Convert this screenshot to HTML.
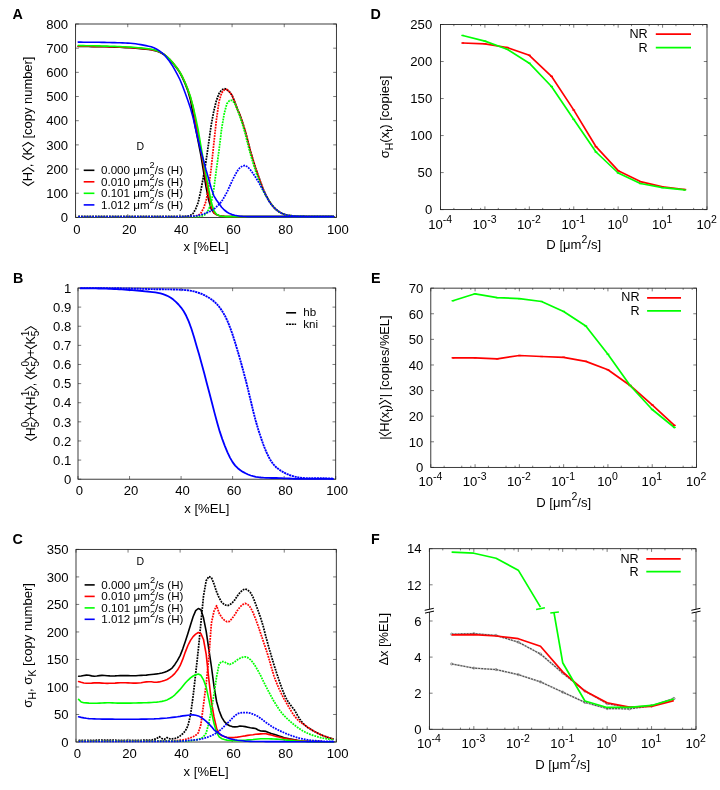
<!DOCTYPE html>
<html><head><meta charset="utf-8"><title>Figure</title>
<style>html,body{margin:0;padding:0;background:#fff;}svg{display:block;will-change:transform;}text{font-family:"Liberation Sans", sans-serif;white-space:pre;}</style>
</head><body>
<svg width="720" height="790" viewBox="0 0 720 790" font-family='"Liberation Sans", sans-serif' fill="#000">
<rect x="0" y="0" width="720" height="790" fill="#fff"/>
<rect x="75.60" y="24.00" width="260.80" height="193.40" fill="none" stroke="#1a1a1a" stroke-width="0.85"/>
<line x1="75.60" y1="217.40" x2="75.60" y2="214.20" stroke="#222" stroke-width="0.6" />
<line x1="75.60" y1="24.00" x2="75.60" y2="27.20" stroke="#222" stroke-width="0.6" />
<text transform="translate(77.00,233.60) scale(1.0,1)" font-size="13.1" text-anchor="middle" font-weight="normal" >0</text>
<line x1="127.76" y1="217.40" x2="127.76" y2="214.20" stroke="#222" stroke-width="0.6" />
<line x1="127.76" y1="24.00" x2="127.76" y2="27.20" stroke="#222" stroke-width="0.6" />
<text transform="translate(129.16,233.60) scale(1.0,1)" font-size="13.1" text-anchor="middle" font-weight="normal" >20</text>
<line x1="179.92" y1="217.40" x2="179.92" y2="214.20" stroke="#222" stroke-width="0.6" />
<line x1="179.92" y1="24.00" x2="179.92" y2="27.20" stroke="#222" stroke-width="0.6" />
<text transform="translate(181.32,233.60) scale(1.0,1)" font-size="13.1" text-anchor="middle" font-weight="normal" >40</text>
<line x1="232.08" y1="217.40" x2="232.08" y2="214.20" stroke="#222" stroke-width="0.6" />
<line x1="232.08" y1="24.00" x2="232.08" y2="27.20" stroke="#222" stroke-width="0.6" />
<text transform="translate(233.48,233.60) scale(1.0,1)" font-size="13.1" text-anchor="middle" font-weight="normal" >60</text>
<line x1="284.24" y1="217.40" x2="284.24" y2="214.20" stroke="#222" stroke-width="0.6" />
<line x1="284.24" y1="24.00" x2="284.24" y2="27.20" stroke="#222" stroke-width="0.6" />
<text transform="translate(285.64,233.60) scale(1.0,1)" font-size="13.1" text-anchor="middle" font-weight="normal" >80</text>
<line x1="336.40" y1="217.40" x2="336.40" y2="214.20" stroke="#222" stroke-width="0.6" />
<line x1="336.40" y1="24.00" x2="336.40" y2="27.20" stroke="#222" stroke-width="0.6" />
<text transform="translate(337.80,233.60) scale(1.0,1)" font-size="13.1" text-anchor="middle" font-weight="normal" >100</text>
<line x1="75.60" y1="217.40" x2="78.80" y2="217.40" stroke="#222" stroke-width="0.6" />
<line x1="336.40" y1="217.40" x2="333.20" y2="217.40" stroke="#222" stroke-width="0.6" />
<text transform="translate(68.10,222.15) scale(1.0,1)" font-size="13.1" text-anchor="end" font-weight="normal" >0</text>
<line x1="75.60" y1="193.22" x2="78.80" y2="193.22" stroke="#222" stroke-width="0.6" />
<line x1="336.40" y1="193.22" x2="333.20" y2="193.22" stroke="#222" stroke-width="0.6" />
<text transform="translate(68.10,197.97) scale(1.0,1)" font-size="13.1" text-anchor="end" font-weight="normal" >100</text>
<line x1="75.60" y1="169.05" x2="78.80" y2="169.05" stroke="#222" stroke-width="0.6" />
<line x1="336.40" y1="169.05" x2="333.20" y2="169.05" stroke="#222" stroke-width="0.6" />
<text transform="translate(68.10,173.80) scale(1.0,1)" font-size="13.1" text-anchor="end" font-weight="normal" >200</text>
<line x1="75.60" y1="144.88" x2="78.80" y2="144.88" stroke="#222" stroke-width="0.6" />
<line x1="336.40" y1="144.88" x2="333.20" y2="144.88" stroke="#222" stroke-width="0.6" />
<text transform="translate(68.10,149.62) scale(1.0,1)" font-size="13.1" text-anchor="end" font-weight="normal" >300</text>
<line x1="75.60" y1="120.70" x2="78.80" y2="120.70" stroke="#222" stroke-width="0.6" />
<line x1="336.40" y1="120.70" x2="333.20" y2="120.70" stroke="#222" stroke-width="0.6" />
<text transform="translate(68.10,125.45) scale(1.0,1)" font-size="13.1" text-anchor="end" font-weight="normal" >400</text>
<line x1="75.60" y1="96.53" x2="78.80" y2="96.53" stroke="#222" stroke-width="0.6" />
<line x1="336.40" y1="96.53" x2="333.20" y2="96.53" stroke="#222" stroke-width="0.6" />
<text transform="translate(68.10,101.28) scale(1.0,1)" font-size="13.1" text-anchor="end" font-weight="normal" >500</text>
<line x1="75.60" y1="72.35" x2="78.80" y2="72.35" stroke="#222" stroke-width="0.6" />
<line x1="336.40" y1="72.35" x2="333.20" y2="72.35" stroke="#222" stroke-width="0.6" />
<text transform="translate(68.10,77.10) scale(1.0,1)" font-size="13.1" text-anchor="end" font-weight="normal" >600</text>
<line x1="75.60" y1="48.18" x2="78.80" y2="48.18" stroke="#222" stroke-width="0.6" />
<line x1="336.40" y1="48.18" x2="333.20" y2="48.18" stroke="#222" stroke-width="0.6" />
<text transform="translate(68.10,52.93) scale(1.0,1)" font-size="13.1" text-anchor="end" font-weight="normal" >700</text>
<line x1="75.60" y1="24.00" x2="78.80" y2="24.00" stroke="#222" stroke-width="0.6" />
<line x1="336.40" y1="24.00" x2="333.20" y2="24.00" stroke="#222" stroke-width="0.6" />
<text transform="translate(68.10,28.75) scale(1.0,1)" font-size="13.1" text-anchor="end" font-weight="normal" >800</text>
<rect x="78.00" y="288.00" width="257.70" height="191.20" fill="none" stroke="#1a1a1a" stroke-width="0.85"/>
<line x1="78.00" y1="479.20" x2="78.00" y2="476.00" stroke="#222" stroke-width="0.6" />
<line x1="78.00" y1="288.00" x2="78.00" y2="291.20" stroke="#222" stroke-width="0.6" />
<text transform="translate(79.40,495.10) scale(1.0,1)" font-size="13.1" text-anchor="middle" font-weight="normal" >0</text>
<line x1="129.54" y1="479.20" x2="129.54" y2="476.00" stroke="#222" stroke-width="0.6" />
<line x1="129.54" y1="288.00" x2="129.54" y2="291.20" stroke="#222" stroke-width="0.6" />
<text transform="translate(130.94,495.10) scale(1.0,1)" font-size="13.1" text-anchor="middle" font-weight="normal" >20</text>
<line x1="181.08" y1="479.20" x2="181.08" y2="476.00" stroke="#222" stroke-width="0.6" />
<line x1="181.08" y1="288.00" x2="181.08" y2="291.20" stroke="#222" stroke-width="0.6" />
<text transform="translate(182.48,495.10) scale(1.0,1)" font-size="13.1" text-anchor="middle" font-weight="normal" >40</text>
<line x1="232.62" y1="479.20" x2="232.62" y2="476.00" stroke="#222" stroke-width="0.6" />
<line x1="232.62" y1="288.00" x2="232.62" y2="291.20" stroke="#222" stroke-width="0.6" />
<text transform="translate(234.02,495.10) scale(1.0,1)" font-size="13.1" text-anchor="middle" font-weight="normal" >60</text>
<line x1="284.16" y1="479.20" x2="284.16" y2="476.00" stroke="#222" stroke-width="0.6" />
<line x1="284.16" y1="288.00" x2="284.16" y2="291.20" stroke="#222" stroke-width="0.6" />
<text transform="translate(285.56,495.10) scale(1.0,1)" font-size="13.1" text-anchor="middle" font-weight="normal" >80</text>
<line x1="335.70" y1="479.20" x2="335.70" y2="476.00" stroke="#222" stroke-width="0.6" />
<line x1="335.70" y1="288.00" x2="335.70" y2="291.20" stroke="#222" stroke-width="0.6" />
<text transform="translate(337.10,495.10) scale(1.0,1)" font-size="13.1" text-anchor="middle" font-weight="normal" >100</text>
<line x1="78.00" y1="479.20" x2="81.20" y2="479.20" stroke="#222" stroke-width="0.6" />
<line x1="335.70" y1="479.20" x2="332.50" y2="479.20" stroke="#222" stroke-width="0.6" />
<text transform="translate(71.30,483.95) scale(1.0,1)" font-size="13.1" text-anchor="end" font-weight="normal" >0</text>
<line x1="78.00" y1="460.08" x2="81.20" y2="460.08" stroke="#222" stroke-width="0.6" />
<line x1="335.70" y1="460.08" x2="332.50" y2="460.08" stroke="#222" stroke-width="0.6" />
<text transform="translate(71.30,464.83) scale(1.0,1)" font-size="13.1" text-anchor="end" font-weight="normal" >0.1</text>
<line x1="78.00" y1="440.96" x2="81.20" y2="440.96" stroke="#222" stroke-width="0.6" />
<line x1="335.70" y1="440.96" x2="332.50" y2="440.96" stroke="#222" stroke-width="0.6" />
<text transform="translate(71.30,445.71) scale(1.0,1)" font-size="13.1" text-anchor="end" font-weight="normal" >0.2</text>
<line x1="78.00" y1="421.84" x2="81.20" y2="421.84" stroke="#222" stroke-width="0.6" />
<line x1="335.70" y1="421.84" x2="332.50" y2="421.84" stroke="#222" stroke-width="0.6" />
<text transform="translate(71.30,426.59) scale(1.0,1)" font-size="13.1" text-anchor="end" font-weight="normal" >0.3</text>
<line x1="78.00" y1="402.72" x2="81.20" y2="402.72" stroke="#222" stroke-width="0.6" />
<line x1="335.70" y1="402.72" x2="332.50" y2="402.72" stroke="#222" stroke-width="0.6" />
<text transform="translate(71.30,407.47) scale(1.0,1)" font-size="13.1" text-anchor="end" font-weight="normal" >0.4</text>
<line x1="78.00" y1="383.60" x2="81.20" y2="383.60" stroke="#222" stroke-width="0.6" />
<line x1="335.70" y1="383.60" x2="332.50" y2="383.60" stroke="#222" stroke-width="0.6" />
<text transform="translate(71.30,388.35) scale(1.0,1)" font-size="13.1" text-anchor="end" font-weight="normal" >0.5</text>
<line x1="78.00" y1="364.48" x2="81.20" y2="364.48" stroke="#222" stroke-width="0.6" />
<line x1="335.70" y1="364.48" x2="332.50" y2="364.48" stroke="#222" stroke-width="0.6" />
<text transform="translate(71.30,369.23) scale(1.0,1)" font-size="13.1" text-anchor="end" font-weight="normal" >0.6</text>
<line x1="78.00" y1="345.36" x2="81.20" y2="345.36" stroke="#222" stroke-width="0.6" />
<line x1="335.70" y1="345.36" x2="332.50" y2="345.36" stroke="#222" stroke-width="0.6" />
<text transform="translate(71.30,350.11) scale(1.0,1)" font-size="13.1" text-anchor="end" font-weight="normal" >0.7</text>
<line x1="78.00" y1="326.24" x2="81.20" y2="326.24" stroke="#222" stroke-width="0.6" />
<line x1="335.70" y1="326.24" x2="332.50" y2="326.24" stroke="#222" stroke-width="0.6" />
<text transform="translate(71.30,330.99) scale(1.0,1)" font-size="13.1" text-anchor="end" font-weight="normal" >0.8</text>
<line x1="78.00" y1="307.12" x2="81.20" y2="307.12" stroke="#222" stroke-width="0.6" />
<line x1="335.70" y1="307.12" x2="332.50" y2="307.12" stroke="#222" stroke-width="0.6" />
<text transform="translate(71.30,311.87) scale(1.0,1)" font-size="13.1" text-anchor="end" font-weight="normal" >0.9</text>
<line x1="78.00" y1="288.00" x2="81.20" y2="288.00" stroke="#222" stroke-width="0.6" />
<line x1="335.70" y1="288.00" x2="332.50" y2="288.00" stroke="#222" stroke-width="0.6" />
<text transform="translate(71.30,292.75) scale(1.0,1)" font-size="13.1" text-anchor="end" font-weight="normal" >1</text>
<rect x="76.00" y="549.40" width="260.30" height="192.60" fill="none" stroke="#1a1a1a" stroke-width="0.85"/>
<line x1="76.00" y1="742.00" x2="76.00" y2="738.80" stroke="#222" stroke-width="0.6" />
<line x1="76.00" y1="549.40" x2="76.00" y2="552.60" stroke="#222" stroke-width="0.6" />
<text transform="translate(77.40,758.00) scale(1.0,1)" font-size="13.1" text-anchor="middle" font-weight="normal" >0</text>
<line x1="128.06" y1="742.00" x2="128.06" y2="738.80" stroke="#222" stroke-width="0.6" />
<line x1="128.06" y1="549.40" x2="128.06" y2="552.60" stroke="#222" stroke-width="0.6" />
<text transform="translate(129.46,758.00) scale(1.0,1)" font-size="13.1" text-anchor="middle" font-weight="normal" >20</text>
<line x1="180.12" y1="742.00" x2="180.12" y2="738.80" stroke="#222" stroke-width="0.6" />
<line x1="180.12" y1="549.40" x2="180.12" y2="552.60" stroke="#222" stroke-width="0.6" />
<text transform="translate(181.52,758.00) scale(1.0,1)" font-size="13.1" text-anchor="middle" font-weight="normal" >40</text>
<line x1="232.18" y1="742.00" x2="232.18" y2="738.80" stroke="#222" stroke-width="0.6" />
<line x1="232.18" y1="549.40" x2="232.18" y2="552.60" stroke="#222" stroke-width="0.6" />
<text transform="translate(233.58,758.00) scale(1.0,1)" font-size="13.1" text-anchor="middle" font-weight="normal" >60</text>
<line x1="284.24" y1="742.00" x2="284.24" y2="738.80" stroke="#222" stroke-width="0.6" />
<line x1="284.24" y1="549.40" x2="284.24" y2="552.60" stroke="#222" stroke-width="0.6" />
<text transform="translate(285.64,758.00) scale(1.0,1)" font-size="13.1" text-anchor="middle" font-weight="normal" >80</text>
<line x1="336.30" y1="742.00" x2="336.30" y2="738.80" stroke="#222" stroke-width="0.6" />
<line x1="336.30" y1="549.40" x2="336.30" y2="552.60" stroke="#222" stroke-width="0.6" />
<text transform="translate(337.70,758.00) scale(1.0,1)" font-size="13.1" text-anchor="middle" font-weight="normal" >100</text>
<line x1="76.00" y1="742.00" x2="79.20" y2="742.00" stroke="#222" stroke-width="0.6" />
<line x1="336.30" y1="742.00" x2="333.10" y2="742.00" stroke="#222" stroke-width="0.6" />
<text transform="translate(68.60,746.75) scale(1.0,1)" font-size="13.1" text-anchor="end" font-weight="normal" >0</text>
<line x1="76.00" y1="714.49" x2="79.20" y2="714.49" stroke="#222" stroke-width="0.6" />
<line x1="336.30" y1="714.49" x2="333.10" y2="714.49" stroke="#222" stroke-width="0.6" />
<text transform="translate(68.60,719.24) scale(1.0,1)" font-size="13.1" text-anchor="end" font-weight="normal" >50</text>
<line x1="76.00" y1="686.97" x2="79.20" y2="686.97" stroke="#222" stroke-width="0.6" />
<line x1="336.30" y1="686.97" x2="333.10" y2="686.97" stroke="#222" stroke-width="0.6" />
<text transform="translate(68.60,691.72) scale(1.0,1)" font-size="13.1" text-anchor="end" font-weight="normal" >100</text>
<line x1="76.00" y1="659.46" x2="79.20" y2="659.46" stroke="#222" stroke-width="0.6" />
<line x1="336.30" y1="659.46" x2="333.10" y2="659.46" stroke="#222" stroke-width="0.6" />
<text transform="translate(68.60,664.21) scale(1.0,1)" font-size="13.1" text-anchor="end" font-weight="normal" >150</text>
<line x1="76.00" y1="631.94" x2="79.20" y2="631.94" stroke="#222" stroke-width="0.6" />
<line x1="336.30" y1="631.94" x2="333.10" y2="631.94" stroke="#222" stroke-width="0.6" />
<text transform="translate(68.60,636.69) scale(1.0,1)" font-size="13.1" text-anchor="end" font-weight="normal" >200</text>
<line x1="76.00" y1="604.43" x2="79.20" y2="604.43" stroke="#222" stroke-width="0.6" />
<line x1="336.30" y1="604.43" x2="333.10" y2="604.43" stroke="#222" stroke-width="0.6" />
<text transform="translate(68.60,609.18) scale(1.0,1)" font-size="13.1" text-anchor="end" font-weight="normal" >250</text>
<line x1="76.00" y1="576.91" x2="79.20" y2="576.91" stroke="#222" stroke-width="0.6" />
<line x1="336.30" y1="576.91" x2="333.10" y2="576.91" stroke="#222" stroke-width="0.6" />
<text transform="translate(68.60,581.66) scale(1.0,1)" font-size="13.1" text-anchor="end" font-weight="normal" >300</text>
<line x1="76.00" y1="549.40" x2="79.20" y2="549.40" stroke="#222" stroke-width="0.6" />
<line x1="336.30" y1="549.40" x2="333.10" y2="549.40" stroke="#222" stroke-width="0.6" />
<text transform="translate(68.60,554.15) scale(1.0,1)" font-size="13.1" text-anchor="end" font-weight="normal" >350</text>
<rect x="440.50" y="24.50" width="266.50" height="185.10" fill="none" stroke="#1a1a1a" stroke-width="0.85"/>
<line x1="440.50" y1="209.60" x2="440.50" y2="206.40" stroke="#222" stroke-width="0.6" />
<line x1="440.50" y1="24.50" x2="440.50" y2="27.70" stroke="#222" stroke-width="0.6" />
<text transform="translate(440.10,228.70) scale(1.0,1)" font-size="13.1" text-anchor="middle">10<tspan font-size="10.5" dy="-6.0">-4</tspan></text>
<line x1="453.87" y1="209.60" x2="453.87" y2="207.90" stroke="#222" stroke-width="0.6" />
<line x1="453.87" y1="24.50" x2="453.87" y2="26.20" stroke="#222" stroke-width="0.6" />
<line x1="471.55" y1="209.60" x2="471.55" y2="207.90" stroke="#222" stroke-width="0.6" />
<line x1="471.55" y1="24.50" x2="471.55" y2="26.20" stroke="#222" stroke-width="0.6" />
<line x1="480.61" y1="209.60" x2="480.61" y2="207.90" stroke="#222" stroke-width="0.6" />
<line x1="480.61" y1="24.50" x2="480.61" y2="26.20" stroke="#222" stroke-width="0.6" />
<line x1="484.92" y1="209.60" x2="484.92" y2="206.40" stroke="#222" stroke-width="0.6" />
<line x1="484.92" y1="24.50" x2="484.92" y2="27.70" stroke="#222" stroke-width="0.6" />
<text transform="translate(484.52,228.70) scale(1.0,1)" font-size="13.1" text-anchor="middle">10<tspan font-size="10.5" dy="-6.0">-3</tspan></text>
<line x1="498.29" y1="209.60" x2="498.29" y2="207.90" stroke="#222" stroke-width="0.6" />
<line x1="498.29" y1="24.50" x2="498.29" y2="26.20" stroke="#222" stroke-width="0.6" />
<line x1="515.96" y1="209.60" x2="515.96" y2="207.90" stroke="#222" stroke-width="0.6" />
<line x1="515.96" y1="24.50" x2="515.96" y2="26.20" stroke="#222" stroke-width="0.6" />
<line x1="525.03" y1="209.60" x2="525.03" y2="207.90" stroke="#222" stroke-width="0.6" />
<line x1="525.03" y1="24.50" x2="525.03" y2="26.20" stroke="#222" stroke-width="0.6" />
<line x1="529.33" y1="209.60" x2="529.33" y2="206.40" stroke="#222" stroke-width="0.6" />
<line x1="529.33" y1="24.50" x2="529.33" y2="27.70" stroke="#222" stroke-width="0.6" />
<text transform="translate(528.93,228.70) scale(1.0,1)" font-size="13.1" text-anchor="middle">10<tspan font-size="10.5" dy="-6.0">-2</tspan></text>
<line x1="542.70" y1="209.60" x2="542.70" y2="207.90" stroke="#222" stroke-width="0.6" />
<line x1="542.70" y1="24.50" x2="542.70" y2="26.20" stroke="#222" stroke-width="0.6" />
<line x1="560.38" y1="209.60" x2="560.38" y2="207.90" stroke="#222" stroke-width="0.6" />
<line x1="560.38" y1="24.50" x2="560.38" y2="26.20" stroke="#222" stroke-width="0.6" />
<line x1="569.45" y1="209.60" x2="569.45" y2="207.90" stroke="#222" stroke-width="0.6" />
<line x1="569.45" y1="24.50" x2="569.45" y2="26.20" stroke="#222" stroke-width="0.6" />
<line x1="573.75" y1="209.60" x2="573.75" y2="206.40" stroke="#222" stroke-width="0.6" />
<line x1="573.75" y1="24.50" x2="573.75" y2="27.70" stroke="#222" stroke-width="0.6" />
<text transform="translate(573.35,228.70) scale(1.0,1)" font-size="13.1" text-anchor="middle">10<tspan font-size="10.5" dy="-6.0">-1</tspan></text>
<line x1="587.12" y1="209.60" x2="587.12" y2="207.90" stroke="#222" stroke-width="0.6" />
<line x1="587.12" y1="24.50" x2="587.12" y2="26.20" stroke="#222" stroke-width="0.6" />
<line x1="604.80" y1="209.60" x2="604.80" y2="207.90" stroke="#222" stroke-width="0.6" />
<line x1="604.80" y1="24.50" x2="604.80" y2="26.20" stroke="#222" stroke-width="0.6" />
<line x1="613.86" y1="209.60" x2="613.86" y2="207.90" stroke="#222" stroke-width="0.6" />
<line x1="613.86" y1="24.50" x2="613.86" y2="26.20" stroke="#222" stroke-width="0.6" />
<line x1="618.17" y1="209.60" x2="618.17" y2="206.40" stroke="#222" stroke-width="0.6" />
<line x1="618.17" y1="24.50" x2="618.17" y2="27.70" stroke="#222" stroke-width="0.6" />
<text transform="translate(617.77,228.70) scale(1.0,1)" font-size="13.1" text-anchor="middle">10<tspan font-size="10.5" dy="-6.0">0</tspan></text>
<line x1="631.54" y1="209.60" x2="631.54" y2="207.90" stroke="#222" stroke-width="0.6" />
<line x1="631.54" y1="24.50" x2="631.54" y2="26.20" stroke="#222" stroke-width="0.6" />
<line x1="649.21" y1="209.60" x2="649.21" y2="207.90" stroke="#222" stroke-width="0.6" />
<line x1="649.21" y1="24.50" x2="649.21" y2="26.20" stroke="#222" stroke-width="0.6" />
<line x1="658.28" y1="209.60" x2="658.28" y2="207.90" stroke="#222" stroke-width="0.6" />
<line x1="658.28" y1="24.50" x2="658.28" y2="26.20" stroke="#222" stroke-width="0.6" />
<line x1="662.58" y1="209.60" x2="662.58" y2="206.40" stroke="#222" stroke-width="0.6" />
<line x1="662.58" y1="24.50" x2="662.58" y2="27.70" stroke="#222" stroke-width="0.6" />
<text transform="translate(662.18,228.70) scale(1.0,1)" font-size="13.1" text-anchor="middle">10<tspan font-size="10.5" dy="-6.0">1</tspan></text>
<line x1="675.95" y1="209.60" x2="675.95" y2="207.90" stroke="#222" stroke-width="0.6" />
<line x1="675.95" y1="24.50" x2="675.95" y2="26.20" stroke="#222" stroke-width="0.6" />
<line x1="693.63" y1="209.60" x2="693.63" y2="207.90" stroke="#222" stroke-width="0.6" />
<line x1="693.63" y1="24.50" x2="693.63" y2="26.20" stroke="#222" stroke-width="0.6" />
<line x1="702.70" y1="209.60" x2="702.70" y2="207.90" stroke="#222" stroke-width="0.6" />
<line x1="702.70" y1="24.50" x2="702.70" y2="26.20" stroke="#222" stroke-width="0.6" />
<line x1="707.00" y1="209.60" x2="707.00" y2="206.40" stroke="#222" stroke-width="0.6" />
<line x1="707.00" y1="24.50" x2="707.00" y2="27.70" stroke="#222" stroke-width="0.6" />
<text transform="translate(706.60,228.70) scale(1.0,1)" font-size="13.1" text-anchor="middle">10<tspan font-size="10.5" dy="-6.0">2</tspan></text>
<line x1="440.50" y1="209.60" x2="443.70" y2="209.60" stroke="#222" stroke-width="0.6" />
<line x1="707.00" y1="209.60" x2="703.80" y2="209.60" stroke="#222" stroke-width="0.6" />
<text transform="translate(432.20,214.35) scale(1.0,1)" font-size="13.1" text-anchor="end" font-weight="normal" >0</text>
<line x1="440.50" y1="172.58" x2="443.70" y2="172.58" stroke="#222" stroke-width="0.6" />
<line x1="707.00" y1="172.58" x2="703.80" y2="172.58" stroke="#222" stroke-width="0.6" />
<text transform="translate(432.20,177.33) scale(1.0,1)" font-size="13.1" text-anchor="end" font-weight="normal" >50</text>
<line x1="440.50" y1="135.56" x2="443.70" y2="135.56" stroke="#222" stroke-width="0.6" />
<line x1="707.00" y1="135.56" x2="703.80" y2="135.56" stroke="#222" stroke-width="0.6" />
<text transform="translate(432.20,140.31) scale(1.0,1)" font-size="13.1" text-anchor="end" font-weight="normal" >100</text>
<line x1="440.50" y1="98.54" x2="443.70" y2="98.54" stroke="#222" stroke-width="0.6" />
<line x1="707.00" y1="98.54" x2="703.80" y2="98.54" stroke="#222" stroke-width="0.6" />
<text transform="translate(432.20,103.29) scale(1.0,1)" font-size="13.1" text-anchor="end" font-weight="normal" >150</text>
<line x1="440.50" y1="61.52" x2="443.70" y2="61.52" stroke="#222" stroke-width="0.6" />
<line x1="707.00" y1="61.52" x2="703.80" y2="61.52" stroke="#222" stroke-width="0.6" />
<text transform="translate(432.20,66.27) scale(1.0,1)" font-size="13.1" text-anchor="end" font-weight="normal" >200</text>
<line x1="440.50" y1="24.50" x2="443.70" y2="24.50" stroke="#222" stroke-width="0.6" />
<line x1="707.00" y1="24.50" x2="703.80" y2="24.50" stroke="#222" stroke-width="0.6" />
<text transform="translate(432.20,29.25) scale(1.0,1)" font-size="13.1" text-anchor="end" font-weight="normal" >250</text>
<rect x="430.80" y="288.15" width="265.70" height="179.25" fill="none" stroke="#1a1a1a" stroke-width="0.85"/>
<line x1="430.80" y1="467.40" x2="430.80" y2="464.20" stroke="#222" stroke-width="0.6" />
<line x1="430.80" y1="288.15" x2="430.80" y2="291.35" stroke="#222" stroke-width="0.6" />
<text transform="translate(430.40,485.80) scale(1.0,1)" font-size="13.1" text-anchor="middle">10<tspan font-size="10.5" dy="-6.0">-4</tspan></text>
<line x1="444.13" y1="467.40" x2="444.13" y2="465.70" stroke="#222" stroke-width="0.6" />
<line x1="444.13" y1="288.15" x2="444.13" y2="289.85" stroke="#222" stroke-width="0.6" />
<line x1="461.75" y1="467.40" x2="461.75" y2="465.70" stroke="#222" stroke-width="0.6" />
<line x1="461.75" y1="288.15" x2="461.75" y2="289.85" stroke="#222" stroke-width="0.6" />
<line x1="470.79" y1="467.40" x2="470.79" y2="465.70" stroke="#222" stroke-width="0.6" />
<line x1="470.79" y1="288.15" x2="470.79" y2="289.85" stroke="#222" stroke-width="0.6" />
<line x1="475.08" y1="467.40" x2="475.08" y2="464.20" stroke="#222" stroke-width="0.6" />
<line x1="475.08" y1="288.15" x2="475.08" y2="291.35" stroke="#222" stroke-width="0.6" />
<text transform="translate(474.68,485.80) scale(1.0,1)" font-size="13.1" text-anchor="middle">10<tspan font-size="10.5" dy="-6.0">-3</tspan></text>
<line x1="488.41" y1="467.40" x2="488.41" y2="465.70" stroke="#222" stroke-width="0.6" />
<line x1="488.41" y1="288.15" x2="488.41" y2="289.85" stroke="#222" stroke-width="0.6" />
<line x1="506.04" y1="467.40" x2="506.04" y2="465.70" stroke="#222" stroke-width="0.6" />
<line x1="506.04" y1="288.15" x2="506.04" y2="289.85" stroke="#222" stroke-width="0.6" />
<line x1="515.08" y1="467.40" x2="515.08" y2="465.70" stroke="#222" stroke-width="0.6" />
<line x1="515.08" y1="288.15" x2="515.08" y2="289.85" stroke="#222" stroke-width="0.6" />
<line x1="519.37" y1="467.40" x2="519.37" y2="464.20" stroke="#222" stroke-width="0.6" />
<line x1="519.37" y1="288.15" x2="519.37" y2="291.35" stroke="#222" stroke-width="0.6" />
<text transform="translate(518.97,485.80) scale(1.0,1)" font-size="13.1" text-anchor="middle">10<tspan font-size="10.5" dy="-6.0">-2</tspan></text>
<line x1="532.70" y1="467.40" x2="532.70" y2="465.70" stroke="#222" stroke-width="0.6" />
<line x1="532.70" y1="288.15" x2="532.70" y2="289.85" stroke="#222" stroke-width="0.6" />
<line x1="550.32" y1="467.40" x2="550.32" y2="465.70" stroke="#222" stroke-width="0.6" />
<line x1="550.32" y1="288.15" x2="550.32" y2="289.85" stroke="#222" stroke-width="0.6" />
<line x1="559.36" y1="467.40" x2="559.36" y2="465.70" stroke="#222" stroke-width="0.6" />
<line x1="559.36" y1="288.15" x2="559.36" y2="289.85" stroke="#222" stroke-width="0.6" />
<line x1="563.65" y1="467.40" x2="563.65" y2="464.20" stroke="#222" stroke-width="0.6" />
<line x1="563.65" y1="288.15" x2="563.65" y2="291.35" stroke="#222" stroke-width="0.6" />
<text transform="translate(563.25,485.80) scale(1.0,1)" font-size="13.1" text-anchor="middle">10<tspan font-size="10.5" dy="-6.0">-1</tspan></text>
<line x1="576.98" y1="467.40" x2="576.98" y2="465.70" stroke="#222" stroke-width="0.6" />
<line x1="576.98" y1="288.15" x2="576.98" y2="289.85" stroke="#222" stroke-width="0.6" />
<line x1="594.60" y1="467.40" x2="594.60" y2="465.70" stroke="#222" stroke-width="0.6" />
<line x1="594.60" y1="288.15" x2="594.60" y2="289.85" stroke="#222" stroke-width="0.6" />
<line x1="603.64" y1="467.40" x2="603.64" y2="465.70" stroke="#222" stroke-width="0.6" />
<line x1="603.64" y1="288.15" x2="603.64" y2="289.85" stroke="#222" stroke-width="0.6" />
<line x1="607.93" y1="467.40" x2="607.93" y2="464.20" stroke="#222" stroke-width="0.6" />
<line x1="607.93" y1="288.15" x2="607.93" y2="291.35" stroke="#222" stroke-width="0.6" />
<text transform="translate(607.53,485.80) scale(1.0,1)" font-size="13.1" text-anchor="middle">10<tspan font-size="10.5" dy="-6.0">0</tspan></text>
<line x1="621.26" y1="467.40" x2="621.26" y2="465.70" stroke="#222" stroke-width="0.6" />
<line x1="621.26" y1="288.15" x2="621.26" y2="289.85" stroke="#222" stroke-width="0.6" />
<line x1="638.89" y1="467.40" x2="638.89" y2="465.70" stroke="#222" stroke-width="0.6" />
<line x1="638.89" y1="288.15" x2="638.89" y2="289.85" stroke="#222" stroke-width="0.6" />
<line x1="647.93" y1="467.40" x2="647.93" y2="465.70" stroke="#222" stroke-width="0.6" />
<line x1="647.93" y1="288.15" x2="647.93" y2="289.85" stroke="#222" stroke-width="0.6" />
<line x1="652.22" y1="467.40" x2="652.22" y2="464.20" stroke="#222" stroke-width="0.6" />
<line x1="652.22" y1="288.15" x2="652.22" y2="291.35" stroke="#222" stroke-width="0.6" />
<text transform="translate(651.82,485.80) scale(1.0,1)" font-size="13.1" text-anchor="middle">10<tspan font-size="10.5" dy="-6.0">1</tspan></text>
<line x1="665.55" y1="467.40" x2="665.55" y2="465.70" stroke="#222" stroke-width="0.6" />
<line x1="665.55" y1="288.15" x2="665.55" y2="289.85" stroke="#222" stroke-width="0.6" />
<line x1="683.17" y1="467.40" x2="683.17" y2="465.70" stroke="#222" stroke-width="0.6" />
<line x1="683.17" y1="288.15" x2="683.17" y2="289.85" stroke="#222" stroke-width="0.6" />
<line x1="692.21" y1="467.40" x2="692.21" y2="465.70" stroke="#222" stroke-width="0.6" />
<line x1="692.21" y1="288.15" x2="692.21" y2="289.85" stroke="#222" stroke-width="0.6" />
<line x1="696.50" y1="467.40" x2="696.50" y2="464.20" stroke="#222" stroke-width="0.6" />
<line x1="696.50" y1="288.15" x2="696.50" y2="291.35" stroke="#222" stroke-width="0.6" />
<text transform="translate(696.10,485.80) scale(1.0,1)" font-size="13.1" text-anchor="middle">10<tspan font-size="10.5" dy="-6.0">2</tspan></text>
<line x1="430.80" y1="467.40" x2="434.00" y2="467.40" stroke="#222" stroke-width="0.6" />
<line x1="696.50" y1="467.40" x2="693.30" y2="467.40" stroke="#222" stroke-width="0.6" />
<text transform="translate(423.30,472.15) scale(1.0,1)" font-size="13.1" text-anchor="end" font-weight="normal" >0</text>
<line x1="430.80" y1="441.79" x2="434.00" y2="441.79" stroke="#222" stroke-width="0.6" />
<line x1="696.50" y1="441.79" x2="693.30" y2="441.79" stroke="#222" stroke-width="0.6" />
<text transform="translate(423.30,446.54) scale(1.0,1)" font-size="13.1" text-anchor="end" font-weight="normal" >10</text>
<line x1="430.80" y1="416.19" x2="434.00" y2="416.19" stroke="#222" stroke-width="0.6" />
<line x1="696.50" y1="416.19" x2="693.30" y2="416.19" stroke="#222" stroke-width="0.6" />
<text transform="translate(423.30,420.94) scale(1.0,1)" font-size="13.1" text-anchor="end" font-weight="normal" >20</text>
<line x1="430.80" y1="390.58" x2="434.00" y2="390.58" stroke="#222" stroke-width="0.6" />
<line x1="696.50" y1="390.58" x2="693.30" y2="390.58" stroke="#222" stroke-width="0.6" />
<text transform="translate(423.30,395.33) scale(1.0,1)" font-size="13.1" text-anchor="end" font-weight="normal" >30</text>
<line x1="430.80" y1="364.97" x2="434.00" y2="364.97" stroke="#222" stroke-width="0.6" />
<line x1="696.50" y1="364.97" x2="693.30" y2="364.97" stroke="#222" stroke-width="0.6" />
<text transform="translate(423.30,369.72) scale(1.0,1)" font-size="13.1" text-anchor="end" font-weight="normal" >40</text>
<line x1="430.80" y1="339.36" x2="434.00" y2="339.36" stroke="#222" stroke-width="0.6" />
<line x1="696.50" y1="339.36" x2="693.30" y2="339.36" stroke="#222" stroke-width="0.6" />
<text transform="translate(423.30,344.11) scale(1.0,1)" font-size="13.1" text-anchor="end" font-weight="normal" >50</text>
<line x1="430.80" y1="313.76" x2="434.00" y2="313.76" stroke="#222" stroke-width="0.6" />
<line x1="696.50" y1="313.76" x2="693.30" y2="313.76" stroke="#222" stroke-width="0.6" />
<text transform="translate(423.30,318.51) scale(1.0,1)" font-size="13.1" text-anchor="end" font-weight="normal" >60</text>
<line x1="430.80" y1="288.15" x2="434.00" y2="288.15" stroke="#222" stroke-width="0.6" />
<line x1="696.50" y1="288.15" x2="693.30" y2="288.15" stroke="#222" stroke-width="0.6" />
<text transform="translate(423.30,292.90) scale(1.0,1)" font-size="13.1" text-anchor="end" font-weight="normal" >70</text>
<rect x="429.40" y="548.70" width="266.60" height="180.60" fill="none" stroke="#1a1a1a" stroke-width="0.85"/>
<line x1="429.40" y1="729.30" x2="429.40" y2="726.10" stroke="#222" stroke-width="0.6" />
<line x1="429.40" y1="548.70" x2="429.40" y2="551.90" stroke="#222" stroke-width="0.6" />
<text transform="translate(429.00,747.70) scale(1.0,1)" font-size="13.1" text-anchor="middle">10<tspan font-size="10.5" dy="-6.0">-4</tspan></text>
<line x1="442.78" y1="729.30" x2="442.78" y2="727.60" stroke="#222" stroke-width="0.6" />
<line x1="442.78" y1="548.70" x2="442.78" y2="550.40" stroke="#222" stroke-width="0.6" />
<line x1="460.46" y1="729.30" x2="460.46" y2="727.60" stroke="#222" stroke-width="0.6" />
<line x1="460.46" y1="548.70" x2="460.46" y2="550.40" stroke="#222" stroke-width="0.6" />
<line x1="469.53" y1="729.30" x2="469.53" y2="727.60" stroke="#222" stroke-width="0.6" />
<line x1="469.53" y1="548.70" x2="469.53" y2="550.40" stroke="#222" stroke-width="0.6" />
<line x1="473.83" y1="729.30" x2="473.83" y2="726.10" stroke="#222" stroke-width="0.6" />
<line x1="473.83" y1="548.70" x2="473.83" y2="551.90" stroke="#222" stroke-width="0.6" />
<text transform="translate(473.43,747.70) scale(1.0,1)" font-size="13.1" text-anchor="middle">10<tspan font-size="10.5" dy="-6.0">-3</tspan></text>
<line x1="487.21" y1="729.30" x2="487.21" y2="727.60" stroke="#222" stroke-width="0.6" />
<line x1="487.21" y1="548.70" x2="487.21" y2="550.40" stroke="#222" stroke-width="0.6" />
<line x1="504.89" y1="729.30" x2="504.89" y2="727.60" stroke="#222" stroke-width="0.6" />
<line x1="504.89" y1="548.70" x2="504.89" y2="550.40" stroke="#222" stroke-width="0.6" />
<line x1="513.96" y1="729.30" x2="513.96" y2="727.60" stroke="#222" stroke-width="0.6" />
<line x1="513.96" y1="548.70" x2="513.96" y2="550.40" stroke="#222" stroke-width="0.6" />
<line x1="518.27" y1="729.30" x2="518.27" y2="726.10" stroke="#222" stroke-width="0.6" />
<line x1="518.27" y1="548.70" x2="518.27" y2="551.90" stroke="#222" stroke-width="0.6" />
<text transform="translate(517.87,747.70) scale(1.0,1)" font-size="13.1" text-anchor="middle">10<tspan font-size="10.5" dy="-6.0">-2</tspan></text>
<line x1="531.64" y1="729.30" x2="531.64" y2="727.60" stroke="#222" stroke-width="0.6" />
<line x1="531.64" y1="548.70" x2="531.64" y2="550.40" stroke="#222" stroke-width="0.6" />
<line x1="549.32" y1="729.30" x2="549.32" y2="727.60" stroke="#222" stroke-width="0.6" />
<line x1="549.32" y1="548.70" x2="549.32" y2="550.40" stroke="#222" stroke-width="0.6" />
<line x1="558.39" y1="729.30" x2="558.39" y2="727.60" stroke="#222" stroke-width="0.6" />
<line x1="558.39" y1="548.70" x2="558.39" y2="550.40" stroke="#222" stroke-width="0.6" />
<line x1="562.70" y1="729.30" x2="562.70" y2="726.10" stroke="#222" stroke-width="0.6" />
<line x1="562.70" y1="548.70" x2="562.70" y2="551.90" stroke="#222" stroke-width="0.6" />
<text transform="translate(562.30,747.70) scale(1.0,1)" font-size="13.1" text-anchor="middle">10<tspan font-size="10.5" dy="-6.0">-1</tspan></text>
<line x1="576.08" y1="729.30" x2="576.08" y2="727.60" stroke="#222" stroke-width="0.6" />
<line x1="576.08" y1="548.70" x2="576.08" y2="550.40" stroke="#222" stroke-width="0.6" />
<line x1="593.76" y1="729.30" x2="593.76" y2="727.60" stroke="#222" stroke-width="0.6" />
<line x1="593.76" y1="548.70" x2="593.76" y2="550.40" stroke="#222" stroke-width="0.6" />
<line x1="602.83" y1="729.30" x2="602.83" y2="727.60" stroke="#222" stroke-width="0.6" />
<line x1="602.83" y1="548.70" x2="602.83" y2="550.40" stroke="#222" stroke-width="0.6" />
<line x1="607.13" y1="729.30" x2="607.13" y2="726.10" stroke="#222" stroke-width="0.6" />
<line x1="607.13" y1="548.70" x2="607.13" y2="551.90" stroke="#222" stroke-width="0.6" />
<text transform="translate(606.73,747.70) scale(1.0,1)" font-size="13.1" text-anchor="middle">10<tspan font-size="10.5" dy="-6.0">0</tspan></text>
<line x1="620.51" y1="729.30" x2="620.51" y2="727.60" stroke="#222" stroke-width="0.6" />
<line x1="620.51" y1="548.70" x2="620.51" y2="550.40" stroke="#222" stroke-width="0.6" />
<line x1="638.19" y1="729.30" x2="638.19" y2="727.60" stroke="#222" stroke-width="0.6" />
<line x1="638.19" y1="548.70" x2="638.19" y2="550.40" stroke="#222" stroke-width="0.6" />
<line x1="647.26" y1="729.30" x2="647.26" y2="727.60" stroke="#222" stroke-width="0.6" />
<line x1="647.26" y1="548.70" x2="647.26" y2="550.40" stroke="#222" stroke-width="0.6" />
<line x1="651.57" y1="729.30" x2="651.57" y2="726.10" stroke="#222" stroke-width="0.6" />
<line x1="651.57" y1="548.70" x2="651.57" y2="551.90" stroke="#222" stroke-width="0.6" />
<text transform="translate(651.17,747.70) scale(1.0,1)" font-size="13.1" text-anchor="middle">10<tspan font-size="10.5" dy="-6.0">1</tspan></text>
<line x1="664.94" y1="729.30" x2="664.94" y2="727.60" stroke="#222" stroke-width="0.6" />
<line x1="664.94" y1="548.70" x2="664.94" y2="550.40" stroke="#222" stroke-width="0.6" />
<line x1="682.62" y1="729.30" x2="682.62" y2="727.60" stroke="#222" stroke-width="0.6" />
<line x1="682.62" y1="548.70" x2="682.62" y2="550.40" stroke="#222" stroke-width="0.6" />
<line x1="691.69" y1="729.30" x2="691.69" y2="727.60" stroke="#222" stroke-width="0.6" />
<line x1="691.69" y1="548.70" x2="691.69" y2="550.40" stroke="#222" stroke-width="0.6" />
<line x1="696.00" y1="729.30" x2="696.00" y2="726.10" stroke="#222" stroke-width="0.6" />
<line x1="696.00" y1="548.70" x2="696.00" y2="551.90" stroke="#222" stroke-width="0.6" />
<text transform="translate(695.60,747.70) scale(1.0,1)" font-size="13.1" text-anchor="middle">10<tspan font-size="10.5" dy="-6.0">2</tspan></text>
<line x1="429.40" y1="729.30" x2="432.60" y2="729.30" stroke="#222" stroke-width="0.6" />
<line x1="696.00" y1="729.30" x2="692.80" y2="729.30" stroke="#222" stroke-width="0.6" />
<text transform="translate(421.60,734.05) scale(1.0,1)" font-size="13.1" text-anchor="end" font-weight="normal" >0</text>
<line x1="429.40" y1="693.20" x2="432.60" y2="693.20" stroke="#222" stroke-width="0.6" />
<line x1="696.00" y1="693.20" x2="692.80" y2="693.20" stroke="#222" stroke-width="0.6" />
<text transform="translate(421.60,697.95) scale(1.0,1)" font-size="13.1" text-anchor="end" font-weight="normal" >2</text>
<line x1="429.40" y1="657.10" x2="432.60" y2="657.10" stroke="#222" stroke-width="0.6" />
<line x1="696.00" y1="657.10" x2="692.80" y2="657.10" stroke="#222" stroke-width="0.6" />
<text transform="translate(421.60,661.85) scale(1.0,1)" font-size="13.1" text-anchor="end" font-weight="normal" >4</text>
<line x1="429.40" y1="621.00" x2="432.60" y2="621.00" stroke="#222" stroke-width="0.6" />
<line x1="696.00" y1="621.00" x2="692.80" y2="621.00" stroke="#222" stroke-width="0.6" />
<text transform="translate(421.60,625.75) scale(1.0,1)" font-size="13.1" text-anchor="end" font-weight="normal" >6</text>
<line x1="429.40" y1="584.80" x2="432.60" y2="584.80" stroke="#222" stroke-width="0.6" />
<line x1="696.00" y1="584.80" x2="692.80" y2="584.80" stroke="#222" stroke-width="0.6" />
<text transform="translate(421.60,589.55) scale(1.0,1)" font-size="13.1" text-anchor="end" font-weight="normal" >12</text>
<line x1="429.40" y1="548.70" x2="432.60" y2="548.70" stroke="#222" stroke-width="0.6" />
<line x1="696.00" y1="548.70" x2="692.80" y2="548.70" stroke="#222" stroke-width="0.6" />
<text transform="translate(421.60,553.45) scale(1.0,1)" font-size="13.1" text-anchor="end" font-weight="normal" >14</text>
<path d="M78.2,46.5 80.8,46.5 83.4,46.5 86.0,46.5 88.6,46.5 91.2,46.6 93.9,46.6 96.5,46.6 99.1,46.7 101.7,46.7 104.3,46.8 106.9,46.8 109.5,46.9 112.1,47.0 114.7,47.1 117.3,47.2 119.9,47.3 122.5,47.4 125.2,47.6 127.8,47.7 130.4,47.8 133.0,48.0 135.6,48.2 138.2,48.4 140.8,48.6 143.4,48.9 146.0,49.1 148.6,49.5 151.2,49.8 153.8,50.4 156.4,51.1 159.1,52.0 161.7,53.2 164.3,54.7 166.9,56.9 169.5,59.3 172.1,62.2 174.7,65.4 177.3,68.9 179.9,72.9 182.5,77.9 185.1,83.8 187.7,90.4 190.4,99.7 193.0,114.1 195.6,128.6 198.2,141.5 200.8,154.9 203.4,170.6 206.0,186.9 208.6,199.8 211.2,209.1 213.8,212.9 216.4,214.5 219.0,215.5 221.6,216.1 224.3,216.4 226.9,216.5 229.5,216.6 232.1,216.6 234.7,216.6 237.3,216.6 239.9,216.6 242.5,216.6 245.1,216.6 247.7,216.6 250.3,216.6 252.9,216.6 255.6,216.6 258.2,216.6 260.8,216.6 263.4,216.6 266.0,216.6 268.6,216.6 271.2,216.6 273.8,216.6 276.4,216.6 279.0,216.6 281.6,216.6 284.2,216.6 286.8,216.6 289.5,216.6 292.1,216.6 294.7,216.6 297.3,216.6 299.9,216.6 302.5,216.6 305.1,216.6 307.7,216.6 310.3,216.6 312.9,216.6 315.5,216.6 318.1,216.6 320.8,216.6 323.4,216.6 326.0,216.6 328.6,216.6 331.2,216.6 333.8,216.6" fill="none" stroke="#000000" stroke-width="1.6" stroke-linejoin="round" stroke-linecap="round" />
<path d="M78.2,216.6 80.8,216.6 83.4,216.6 86.0,216.6 88.6,216.6 91.2,216.6 93.9,216.6 96.5,216.6 99.1,216.6 101.7,216.6 104.3,216.6 106.9,216.6 109.5,216.6 112.1,216.6 114.7,216.6 117.3,216.6 119.9,216.6 122.5,216.6 125.2,216.6 127.8,216.6 130.4,216.6 133.0,216.6 135.6,216.6 138.2,216.6 140.8,216.6 143.4,216.6 146.0,216.6 148.6,216.6 151.2,216.6 153.8,216.6 156.4,216.6 159.1,216.6 161.7,216.6 164.3,216.6 166.9,216.6 169.5,216.6 172.1,216.6 174.7,216.6 177.3,216.6 179.9,216.6 182.5,216.5 185.1,216.4 187.7,216.1 190.4,215.4 193.0,213.6 195.6,209.1 198.2,202.4 200.8,190.9 203.4,176.8 206.0,161.5 208.6,143.3 211.2,125.0 213.8,111.1 216.4,100.5 219.0,93.6 221.6,90.0 224.3,88.6 226.9,89.4 229.5,91.8 232.1,95.4 234.7,101.8 237.3,108.9 239.9,114.8 242.5,122.2 245.1,130.6 247.7,140.3 250.3,150.7 252.9,159.4 255.6,168.0 258.2,175.6 260.8,182.7 263.4,189.7 266.0,195.3 268.6,200.1 271.2,204.1 273.8,207.3 276.4,209.8 279.0,211.7 281.6,213.2 284.2,214.3 286.8,215.0 289.5,215.5 292.1,215.8 294.7,216.1 297.3,216.3 299.9,216.4 302.5,216.4 305.1,216.5 307.7,216.5 310.3,216.5 312.9,216.6 315.5,216.6 318.1,216.6 320.8,216.6 323.4,216.6 326.0,216.6 328.6,216.6 331.2,216.6 333.8,216.6" fill="none" stroke="#000000" stroke-width="1.75" stroke-linejoin="round" stroke-dasharray="1.8 1.0" />
<path d="M78.2,46.2 80.8,46.2 83.4,46.3 86.0,46.3 88.6,46.3 91.2,46.3 93.9,46.4 96.5,46.4 99.1,46.4 101.7,46.5 104.3,46.5 106.9,46.6 109.5,46.7 112.1,46.7 114.7,46.8 117.3,47.0 119.9,47.1 122.5,47.2 125.2,47.3 127.8,47.4 130.4,47.6 133.0,47.8 135.6,47.9 138.2,48.1 140.8,48.4 143.4,48.6 146.0,48.9 148.6,49.2 151.2,49.6 153.8,50.1 156.4,50.8 159.1,51.7 161.7,52.9 164.3,54.5 166.9,56.6 169.5,59.1 172.1,61.8 174.7,64.9 177.3,68.3 179.9,72.2 182.5,77.0 185.1,82.6 187.7,89.1 190.4,96.9 193.0,106.7 195.6,121.7 198.2,135.7 200.8,149.4 203.4,164.1 206.0,180.1 208.6,194.1 211.2,206.5 213.8,212.5 216.4,214.5 219.0,215.5 221.6,216.1 224.3,216.4 226.9,216.5 229.5,216.6 232.1,216.6 234.7,216.6 237.3,216.6 239.9,216.6 242.5,216.6 245.1,216.6 247.7,216.6 250.3,216.6 252.9,216.6 255.6,216.6 258.2,216.6 260.8,216.6 263.4,216.6 266.0,216.6 268.6,216.6 271.2,216.6 273.8,216.6 276.4,216.6 279.0,216.6 281.6,216.6 284.2,216.6 286.8,216.6 289.5,216.6 292.1,216.6 294.7,216.6 297.3,216.6 299.9,216.6 302.5,216.6 305.1,216.6 307.7,216.6 310.3,216.6 312.9,216.6 315.5,216.6 318.1,216.6 320.8,216.6 323.4,216.6 326.0,216.6 328.6,216.6 331.2,216.6 333.8,216.6" fill="none" stroke="#ff0000" stroke-width="1.6" stroke-linejoin="round" stroke-linecap="round" />
<path d="M78.2,216.6 80.8,216.6 83.4,216.6 86.0,216.6 88.6,216.6 91.2,216.6 93.9,216.6 96.5,216.6 99.1,216.6 101.7,216.6 104.3,216.6 106.9,216.6 109.5,216.6 112.1,216.6 114.7,216.6 117.3,216.6 119.9,216.6 122.5,216.6 125.2,216.6 127.8,216.6 130.4,216.6 133.0,216.6 135.6,216.6 138.2,216.6 140.8,216.6 143.4,216.6 146.0,216.6 148.6,216.6 151.2,216.6 153.8,216.6 156.4,216.6 159.1,216.6 161.7,216.6 164.3,216.6 166.9,216.6 169.5,216.6 172.1,216.6 174.7,216.6 177.3,216.6 179.9,216.6 182.5,216.6 185.1,216.6 187.7,216.6 190.4,216.6 193.0,216.4 195.6,216.2 198.2,215.4 200.8,213.3 203.4,208.6 206.0,201.2 208.6,187.6 211.2,168.3 213.8,143.8 216.4,120.0 219.0,101.5 221.6,92.9 224.3,89.9 226.9,89.5 229.5,91.8 232.1,95.4 234.7,101.8 237.3,108.9 239.9,114.8 242.5,122.2 245.1,130.6 247.7,140.3 250.3,150.7 252.9,159.4 255.6,168.0 258.2,175.6 260.8,182.7 263.4,189.7 266.0,195.3 268.6,200.1 271.2,204.1 273.8,207.3 276.4,209.8 279.0,211.7 281.6,213.2 284.2,214.3 286.8,215.0 289.5,215.5 292.1,215.8 294.7,216.1 297.3,216.3 299.9,216.4 302.5,216.4 305.1,216.5 307.7,216.5 310.3,216.5 312.9,216.6 315.5,216.6 318.1,216.6 320.8,216.6 323.4,216.6 326.0,216.6 328.6,216.6 331.2,216.6 333.8,216.6" fill="none" stroke="#ff0000" stroke-width="1.75" stroke-linejoin="round" stroke-dasharray="1.8 1.0" />
<path d="M78.2,45.5 80.8,45.6 83.4,45.6 86.0,45.7 88.6,45.7 91.2,45.8 93.9,45.8 96.5,45.9 99.1,45.9 101.7,46.0 104.3,46.1 106.9,46.1 109.5,46.2 112.1,46.3 114.7,46.4 117.3,46.5 119.9,46.6 122.5,46.7 125.2,46.8 127.8,47.0 130.4,47.1 133.0,47.3 135.6,47.5 138.2,47.7 140.8,47.9 143.4,48.2 146.0,48.5 148.6,48.8 151.2,49.2 153.8,49.8 156.4,50.6 159.1,51.6 161.7,52.9 164.3,54.5 166.9,56.7 169.5,59.1 172.1,61.8 174.7,64.9 177.3,68.3 179.9,72.2 182.5,77.0 185.1,82.6 187.7,89.0 190.4,96.6 193.0,106.0 195.6,117.4 198.2,130.0 200.8,145.4 203.4,160.4 206.0,174.9 208.6,188.6 211.2,201.6 213.8,210.5 216.4,214.1 219.0,215.5 221.6,216.2 224.3,216.5 226.9,216.6 229.5,216.6 232.1,216.6 234.7,216.6 237.3,216.6 239.9,216.6 242.5,216.6 245.1,216.6 247.7,216.6 250.3,216.6 252.9,216.6 255.6,216.6 258.2,216.6 260.8,216.6 263.4,216.6 266.0,216.6 268.6,216.6 271.2,216.6 273.8,216.6 276.4,216.6 279.0,216.6 281.6,216.6 284.2,216.6 286.8,216.6 289.5,216.6 292.1,216.6 294.7,216.6 297.3,216.6 299.9,216.6 302.5,216.6 305.1,216.6 307.7,216.6 310.3,216.6 312.9,216.6 315.5,216.6 318.1,216.6 320.8,216.6 323.4,216.6 326.0,216.6 328.6,216.6 331.2,216.6 333.8,216.6" fill="none" stroke="#00ff00" stroke-width="1.6" stroke-linejoin="round" stroke-linecap="round" />
<path d="M78.2,216.6 80.8,216.6 83.4,216.6 86.0,216.6 88.6,216.6 91.2,216.6 93.9,216.6 96.5,216.6 99.1,216.6 101.7,216.6 104.3,216.6 106.9,216.6 109.5,216.6 112.1,216.6 114.7,216.6 117.3,216.6 119.9,216.6 122.5,216.6 125.2,216.6 127.8,216.6 130.4,216.6 133.0,216.6 135.6,216.6 138.2,216.6 140.8,216.6 143.4,216.6 146.0,216.6 148.6,216.6 151.2,216.6 153.8,216.6 156.4,216.6 159.1,216.6 161.7,216.6 164.3,216.6 166.9,216.6 169.5,216.6 172.1,216.6 174.7,216.6 177.3,216.6 179.9,216.6 182.5,216.6 185.1,216.6 187.7,216.6 190.4,216.6 193.0,216.6 195.6,216.6 198.2,216.5 200.8,216.3 203.4,215.7 206.0,213.9 208.6,209.7 211.2,202.7 213.8,189.2 216.4,169.4 219.0,150.4 221.6,129.0 224.3,113.2 226.9,103.6 229.5,100.5 232.1,100.4 234.7,103.2 237.3,109.4 239.9,116.6 242.5,124.6 245.1,133.3 247.7,143.9 250.3,153.8 252.9,162.5 255.6,171.2 258.2,178.5 260.8,185.4 263.4,191.4 266.0,195.9 268.6,200.3 271.2,204.1 273.8,207.3 276.4,209.8 279.0,211.7 281.6,213.2 284.2,214.3 286.8,215.0 289.5,215.5 292.1,215.8 294.7,216.1 297.3,216.3 299.9,216.4 302.5,216.4 305.1,216.5 307.7,216.5 310.3,216.5 312.9,216.6 315.5,216.6 318.1,216.6 320.8,216.6 323.4,216.6 326.0,216.6 328.6,216.6 331.2,216.6 333.8,216.6" fill="none" stroke="#00ff00" stroke-width="1.75" stroke-linejoin="round" stroke-dasharray="1.8 1.0" />
<path d="M78.2,42.1 80.8,42.1 83.4,42.2 86.0,42.2 88.6,42.2 91.2,42.2 93.9,42.3 96.5,42.3 99.1,42.3 101.7,42.4 104.3,42.4 106.9,42.5 109.5,42.5 112.1,42.6 114.7,42.6 117.3,42.7 119.9,42.8 122.5,42.9 125.2,43.0 127.8,43.1 130.4,43.3 133.0,43.5 135.6,43.8 138.2,44.2 140.8,44.6 143.4,45.1 146.0,45.6 148.6,46.2 151.2,46.8 153.8,47.8 156.4,49.0 159.1,50.6 161.7,52.6 164.3,55.0 166.9,57.9 169.5,61.2 172.1,65.2 174.7,69.6 177.3,74.3 179.9,79.5 182.5,85.7 185.1,92.7 187.7,100.0 190.4,108.1 193.0,117.4 195.6,128.8 198.2,140.0 200.8,150.6 203.4,159.9 206.0,169.7 208.6,178.6 211.2,188.0 213.8,195.6 216.4,200.0 219.0,203.4 221.6,207.2 224.3,210.0 226.9,212.0 229.5,213.6 232.1,214.6 234.7,215.2 237.3,215.7 239.9,216.2 242.5,216.4 245.1,216.5 247.7,216.6 250.3,216.6 252.9,216.6 255.6,216.6 258.2,216.6 260.8,216.6 263.4,216.6 266.0,216.6 268.6,216.6 271.2,216.6 273.8,216.6 276.4,216.6 279.0,216.6 281.6,216.6 284.2,216.6 286.8,216.6 289.5,216.6 292.1,216.6 294.7,216.6 297.3,216.6 299.9,216.6 302.5,216.6 305.1,216.6 307.7,216.6 310.3,216.6 312.9,216.6 315.5,216.6 318.1,216.6 320.8,216.6 323.4,216.6 326.0,216.6 328.6,216.6 331.2,216.6 333.8,216.6" fill="none" stroke="#0000ff" stroke-width="1.6" stroke-linejoin="round" stroke-linecap="round" />
<path d="M78.2,216.6 80.8,216.6 83.4,216.6 86.0,216.6 88.6,216.6 91.2,216.6 93.9,216.6 96.5,216.6 99.1,216.6 101.7,216.6 104.3,216.6 106.9,216.6 109.5,216.6 112.1,216.6 114.7,216.6 117.3,216.6 119.9,216.6 122.5,216.6 125.2,216.6 127.8,216.6 130.4,216.6 133.0,216.6 135.6,216.6 138.2,216.6 140.8,216.6 143.4,216.6 146.0,216.6 148.6,216.6 151.2,216.6 153.8,216.6 156.4,216.6 159.1,216.6 161.7,216.6 164.3,216.6 166.9,216.6 169.5,216.6 172.1,216.6 174.7,216.6 177.3,216.6 179.9,216.6 182.5,216.5 185.1,216.5 187.7,216.4 190.4,216.3 193.0,216.2 195.6,215.9 198.2,215.5 200.8,214.9 203.4,214.1 206.0,213.1 208.6,212.0 211.2,210.9 213.8,209.4 216.4,206.9 219.0,204.5 221.6,201.5 224.3,197.0 226.9,192.4 229.5,186.6 232.1,181.0 234.7,175.7 237.3,171.1 239.9,167.7 242.5,166.0 245.1,165.4 247.7,167.0 250.3,169.7 252.9,173.2 255.6,177.4 258.2,181.5 260.8,186.0 263.4,190.8 266.0,195.6 268.6,200.6 271.2,204.4 273.8,207.3 276.4,209.8 279.0,211.7 281.6,213.2 284.2,214.3 286.8,215.0 289.5,215.5 292.1,215.8 294.7,216.1 297.3,216.3 299.9,216.4 302.5,216.4 305.1,216.5 307.7,216.5 310.3,216.5 312.9,216.6 315.5,216.6 318.1,216.6 320.8,216.6 323.4,216.6 326.0,216.6 328.6,216.6 331.2,216.6 333.8,216.6" fill="none" stroke="#0000ff" stroke-width="1.75" stroke-linejoin="round" stroke-dasharray="1.8 1.0" />
<path d="M80.6,288.4 83.2,288.4 85.7,288.4 88.3,288.4 90.9,288.4 93.5,288.4 96.0,288.4 98.6,288.5 101.2,288.5 103.8,288.6 106.3,288.7 108.9,288.8 111.5,288.9 114.1,289.0 116.7,289.1 119.2,289.3 121.8,289.4 124.4,289.6 127.0,289.8 129.5,290.0 132.1,290.2 134.7,290.4 137.3,290.6 139.8,290.8 142.4,291.0 145.0,291.3 147.6,291.5 150.2,291.8 152.7,292.1 155.3,292.4 157.9,292.9 160.5,293.4 163.0,294.2 165.6,295.1 168.2,296.3 170.8,297.8 173.3,299.6 175.9,301.9 178.5,304.5 181.1,307.6 183.7,311.3 186.2,315.8 188.8,321.6 191.4,328.7 194.0,337.0 196.5,345.7 199.1,354.6 201.7,363.9 204.3,373.5 206.8,383.2 209.4,393.0 212.0,403.0 214.6,413.1 217.2,422.7 219.7,431.4 222.3,439.1 224.9,446.1 227.5,452.3 230.0,457.6 232.6,462.1 235.2,465.6 237.8,468.2 240.4,470.3 242.9,471.9 245.5,473.3 248.1,474.5 250.7,475.5 253.2,476.2 255.8,476.8 258.4,477.2 261.0,477.5 263.5,477.7 266.1,477.8 268.7,477.9 271.3,478.0 273.9,478.0 276.4,478.0 279.0,478.1 281.6,478.2 284.2,478.3 286.7,478.4 289.3,478.5 291.9,478.6 294.5,478.8 297.0,478.9 299.6,478.9 302.2,478.9 304.8,478.9 307.4,478.9 309.9,478.9 312.5,478.9 315.1,478.9 317.7,478.9 320.2,478.9 322.8,478.9 325.4,478.9 328.0,478.9 330.5,478.9 333.1,478.9" fill="none" stroke="#0000ff" stroke-width="1.8" stroke-linejoin="round" stroke-linecap="round" />
<path d="M80.6,288.1 83.2,288.1 85.7,288.1 88.3,288.1 90.9,288.1 93.5,288.1 96.0,288.1 98.6,288.1 101.2,288.1 103.8,288.1 106.3,288.1 108.9,288.1 111.5,288.2 114.1,288.2 116.7,288.2 119.2,288.3 121.8,288.4 124.4,288.4 127.0,288.5 129.5,288.5 132.1,288.6 134.7,288.7 137.3,288.7 139.8,288.8 142.4,288.9 145.0,288.9 147.6,289.0 150.2,289.1 152.7,289.1 155.3,289.2 157.9,289.2 160.5,289.3 163.0,289.3 165.6,289.4 168.2,289.4 170.8,289.4 173.3,289.5 175.9,289.5 178.5,289.6 181.1,289.7 183.7,289.9 186.2,290.1 188.8,290.4 191.4,290.9 194.0,291.4 196.5,292.1 199.1,293.0 201.7,293.9 204.3,295.1 206.8,296.5 209.4,298.0 212.0,299.8 214.6,301.9 217.2,304.5 219.7,307.5 222.3,311.2 224.9,315.7 227.5,321.0 230.0,327.3 232.6,334.6 235.2,342.8 237.8,351.5 240.4,360.4 242.9,369.6 245.5,379.2 248.1,389.7 250.7,400.5 253.2,411.2 255.8,421.1 258.4,430.0 261.0,437.9 263.5,445.0 266.1,451.5 268.7,457.0 271.3,461.5 273.9,464.9 276.4,467.5 279.0,469.5 281.6,471.2 284.2,472.7 286.7,473.9 289.3,475.0 291.9,475.9 294.5,476.6 297.0,477.2 299.6,477.6 302.2,477.9 304.8,478.1 307.4,478.2 309.9,478.3 312.5,478.3 315.1,478.3 317.7,478.3 320.2,478.3 322.8,478.3 325.4,478.3 328.0,478.4 330.5,478.5 333.1,478.8" fill="none" stroke="#0000ff" stroke-width="1.9" stroke-linejoin="round" stroke-dasharray="2.15 0.65" />
<path d="M78.6,676.2 81.2,676.0 83.8,675.5 86.4,675.1 89.0,675.3 91.6,675.9 94.2,676.2 96.8,676.0 99.4,675.6 102.0,675.4 104.6,675.5 107.2,675.7 109.8,675.9 112.4,676.0 115.0,675.9 117.6,675.7 120.3,675.6 122.9,675.5 125.5,675.6 128.1,675.6 130.7,675.7 133.3,675.7 135.9,675.7 138.5,675.5 141.1,675.4 143.7,675.3 146.3,675.1 148.9,674.8 151.5,674.5 154.1,674.2 156.7,673.9 159.3,673.5 161.9,673.0 164.5,672.3 167.1,671.2 169.7,669.8 172.3,667.8 174.9,664.4 177.5,660.4 180.1,655.6 182.7,649.1 185.3,641.5 187.9,633.4 190.5,624.9 193.1,616.7 195.7,610.6 198.3,608.5 200.9,609.7 203.5,617.8 206.2,631.4 208.8,649.2 211.4,666.5 214.0,686.2 216.6,701.5 219.2,710.8 221.8,717.4 224.4,721.7 227.0,724.2 229.6,725.7 232.2,726.6 234.8,726.9 237.4,726.7 240.0,726.0 242.6,726.2 245.2,726.6 247.8,727.2 250.4,727.8 253.0,728.1 255.6,728.5 258.2,730.0 260.8,731.0 263.4,731.1 266.0,731.4 268.6,732.5 271.2,733.5 273.8,734.2 276.4,735.0 279.0,735.9 281.6,736.8 284.2,737.7 286.8,738.3 289.4,738.9 292.0,739.4 294.7,739.9 297.3,740.4 299.9,740.8 302.5,741.1 305.1,741.3 307.7,741.4 310.3,741.5 312.9,741.5 315.5,741.6 318.1,741.6 320.7,741.6 323.3,741.7 325.9,741.7 328.5,741.7 331.1,741.7 333.7,741.7" fill="none" stroke="#000000" stroke-width="1.6" stroke-linejoin="round" stroke-linecap="round" />
<path d="M78.6,740.3 81.2,740.3 83.8,740.3 86.4,740.3 89.0,740.3 91.6,740.3 94.2,740.3 96.8,740.2 99.4,740.1 102.0,740.1 104.6,740.1 107.2,740.1 109.8,740.1 112.4,740.2 115.0,740.2 117.6,740.3 120.3,740.3 122.9,740.3 125.5,740.3 128.1,740.3 130.7,740.3 133.3,740.3 135.9,740.3 138.5,740.3 141.1,740.3 143.7,740.2 146.3,740.2 148.9,740.2 151.5,740.0 154.1,739.4 156.7,738.5 159.3,736.7 161.9,738.5 164.5,739.2 167.1,737.6 169.7,738.8 172.3,738.8 174.9,738.5 177.5,737.6 180.1,735.9 182.7,733.8 185.3,730.9 187.9,725.9 190.5,715.0 193.1,696.3 195.7,673.3 198.3,649.9 200.9,622.8 203.5,596.2 206.2,580.7 208.8,576.5 211.4,577.5 214.0,584.0 216.6,591.9 219.2,598.0 221.8,602.4 224.4,604.6 227.0,605.8 229.6,605.1 232.2,602.8 234.8,599.9 237.4,595.9 240.0,592.5 242.6,590.0 245.2,588.9 247.8,590.0 250.4,592.5 253.0,597.2 255.6,603.8 258.2,611.0 260.8,618.4 263.4,627.0 266.0,637.1 268.6,646.7 271.2,655.6 273.8,664.2 276.4,672.4 279.0,680.2 281.6,687.5 284.2,694.3 286.8,699.6 289.4,703.6 292.0,706.9 294.7,710.4 297.3,715.0 299.9,719.3 302.5,722.9 305.1,725.4 307.7,727.4 310.3,729.1 312.9,730.6 315.5,732.1 318.1,733.4 320.7,734.6 323.3,735.7 325.9,736.7 328.5,737.6 331.1,738.4 333.7,739.1" fill="none" stroke="#000000" stroke-width="1.75" stroke-linejoin="round" stroke-dasharray="1.8 1.0" />
<path d="M78.6,681.5 81.2,682.3 83.8,683.0 86.4,683.3 89.0,683.2 91.6,683.1 94.2,682.9 96.8,682.8 99.4,682.9 102.0,683.1 104.6,683.3 107.2,683.4 109.8,683.3 112.4,683.2 115.0,683.1 117.6,682.9 120.3,682.8 122.9,682.8 125.5,682.8 128.1,682.9 130.7,683.0 133.3,683.1 135.9,683.1 138.5,683.0 141.1,682.7 143.7,682.3 146.3,681.9 148.9,681.7 151.5,681.8 154.1,682.2 156.7,682.2 159.3,681.9 161.9,681.2 164.5,680.4 167.1,679.5 169.7,677.9 172.3,675.8 174.9,673.3 177.5,670.1 180.1,665.7 182.7,659.4 185.3,652.1 187.9,645.5 190.5,640.4 193.1,636.6 195.7,634.1 198.3,632.5 200.9,633.6 203.5,639.5 206.2,654.3 208.8,678.9 211.4,701.6 214.0,717.0 216.6,728.3 219.2,733.6 221.8,735.7 224.4,736.6 227.0,737.2 229.6,737.5 232.2,737.6 234.8,737.4 237.4,737.1 240.0,736.7 242.6,736.3 245.2,735.9 247.8,735.4 250.4,735.0 253.0,734.7 255.6,734.3 258.2,734.1 260.8,733.9 263.4,733.8 266.0,733.8 268.6,734.4 271.2,735.0 273.8,735.7 276.4,736.4 279.0,737.1 281.6,737.8 284.2,738.4 286.8,738.9 289.4,739.3 292.0,739.8 294.7,740.1 297.3,740.5 299.9,740.9 302.5,741.1 305.1,741.3 307.7,741.4 310.3,741.5 312.9,741.5 315.5,741.6 318.1,741.6 320.7,741.6 323.3,741.7 325.9,741.7 328.5,741.7 331.1,741.7 333.7,741.7" fill="none" stroke="#ff0000" stroke-width="1.6" stroke-linejoin="round" stroke-linecap="round" />
<path d="M78.6,740.9 81.2,740.9 83.8,740.9 86.4,740.9 89.0,740.9 91.6,740.9 94.2,740.9 96.8,740.9 99.4,740.9 102.0,740.9 104.6,740.9 107.2,740.9 109.8,740.9 112.4,740.9 115.0,740.9 117.6,740.9 120.3,740.9 122.9,740.9 125.5,740.9 128.1,740.9 130.7,740.9 133.3,740.9 135.9,740.9 138.5,740.9 141.1,740.9 143.7,740.9 146.3,740.9 148.9,740.9 151.5,740.9 154.1,740.9 156.7,740.9 159.3,740.9 161.9,740.9 164.5,740.9 167.1,740.9 169.7,740.9 172.3,740.9 174.9,740.7 177.5,740.5 180.1,740.3 182.7,740.0 185.3,739.4 187.9,738.6 190.5,737.8 193.1,736.7 195.7,735.3 198.3,732.8 200.9,724.5 203.5,704.7 206.2,683.6 208.8,657.9 211.4,623.1 214.0,611.2 216.6,605.7 219.2,613.4 221.8,617.5 224.4,620.2 227.0,621.8 229.6,621.3 232.2,618.3 234.8,614.7 237.4,610.5 240.0,607.0 242.6,604.6 245.2,603.4 247.8,604.5 250.4,607.3 253.0,612.5 255.6,619.0 258.2,626.2 260.8,633.8 263.4,641.6 266.0,649.4 268.6,657.5 271.2,666.6 273.8,675.5 276.4,682.6 279.0,688.6 281.6,694.1 284.2,699.1 286.8,703.6 289.4,708.0 292.0,712.4 294.7,716.2 297.3,719.3 299.9,721.8 302.5,723.6 305.1,725.3 307.7,727.2 310.3,729.0 312.9,730.6 315.5,732.0 318.1,733.4 320.7,734.6 323.3,735.7 325.9,736.7 328.5,737.6 331.1,738.4 333.7,739.1" fill="none" stroke="#ff0000" stroke-width="1.75" stroke-linejoin="round" stroke-dasharray="1.8 1.0" />
<path d="M78.6,699.4 81.2,702.0 83.8,702.7 86.4,702.9 89.0,703.1 91.6,703.2 94.2,703.2 96.8,703.2 99.4,703.1 102.0,703.0 104.6,702.9 107.2,702.8 109.8,702.8 112.4,702.9 115.0,703.0 117.6,703.1 120.3,703.1 122.9,703.1 125.5,703.1 128.1,703.1 130.7,703.1 133.3,703.0 135.9,703.0 138.5,702.9 141.1,702.9 143.7,702.8 146.3,702.7 148.9,702.6 151.5,702.5 154.1,702.3 156.7,702.1 159.3,701.8 161.9,701.4 164.5,700.8 167.1,699.9 169.7,698.5 172.3,697.0 174.9,694.8 177.5,692.1 180.1,689.4 182.7,686.2 185.3,683.0 187.9,680.3 190.5,677.8 193.1,676.0 195.7,674.8 198.3,674.1 200.9,675.3 203.5,679.8 206.2,687.2 208.8,699.4 211.4,711.9 214.0,723.6 216.6,732.3 219.2,736.8 221.8,738.7 224.4,739.5 227.0,740.1 229.6,740.4 232.2,740.5 234.8,740.6 237.4,740.6 240.0,740.6 242.6,740.4 245.2,740.2 247.8,739.9 250.4,739.7 253.0,739.5 255.6,739.2 258.2,739.0 260.8,738.8 263.4,738.7 266.0,738.7 268.6,738.8 271.2,738.9 273.8,739.0 276.4,739.1 279.0,739.2 281.6,739.5 284.2,739.8 286.8,740.1 289.4,740.4 292.0,740.6 294.7,740.9 297.3,741.1 299.9,741.3 302.5,741.4 305.1,741.5 307.7,741.5 310.3,741.6 312.9,741.6 315.5,741.6 318.1,741.6 320.7,741.7 323.3,741.7 325.9,741.7 328.5,741.7 331.1,741.7 333.7,741.7" fill="none" stroke="#00ff00" stroke-width="1.6" stroke-linejoin="round" stroke-linecap="round" />
<path d="M78.6,741.2 81.2,741.2 83.8,741.2 86.4,741.2 89.0,741.2 91.6,741.2 94.2,741.2 96.8,741.2 99.4,741.2 102.0,741.2 104.6,741.2 107.2,741.2 109.8,741.2 112.4,741.2 115.0,741.2 117.6,741.2 120.3,741.2 122.9,741.2 125.5,741.2 128.1,741.2 130.7,741.2 133.3,741.2 135.9,741.2 138.5,741.2 141.1,741.2 143.7,741.2 146.3,741.2 148.9,741.2 151.5,741.2 154.1,741.2 156.7,741.2 159.3,741.2 161.9,741.2 164.5,741.2 167.1,741.2 169.7,741.2 172.3,741.2 174.9,741.2 177.5,741.2 180.1,741.2 182.7,741.2 185.3,741.2 187.9,741.0 190.5,740.7 193.1,740.3 195.7,739.9 198.3,739.3 200.9,738.5 203.5,736.9 206.2,732.9 208.8,723.3 211.4,710.1 214.0,694.3 216.6,676.7 219.2,663.7 221.8,661.5 224.4,661.8 227.0,663.4 229.6,664.5 232.2,663.4 234.8,661.8 237.4,659.8 240.0,658.2 242.6,657.2 245.2,656.8 247.8,657.7 250.4,659.6 253.0,662.6 255.6,666.6 258.2,671.0 260.8,675.9 263.4,681.3 266.0,686.5 268.6,691.5 271.2,696.4 273.8,701.0 276.4,705.2 279.0,709.3 281.6,712.8 284.2,715.8 286.8,718.3 289.4,720.7 292.0,723.0 294.7,725.3 297.3,727.3 299.9,729.0 302.5,730.7 305.1,732.1 307.7,733.3 310.3,734.4 312.9,735.3 315.5,736.1 318.1,736.9 320.7,737.6 323.3,738.2 325.9,738.7 328.5,739.1 331.1,739.5 333.7,739.7" fill="none" stroke="#00ff00" stroke-width="1.75" stroke-linejoin="round" stroke-dasharray="1.8 1.0" />
<path d="M78.6,716.8 81.2,717.4 83.8,717.9 86.4,718.3 89.0,718.6 91.6,718.8 94.2,718.9 96.8,719.0 99.4,719.0 102.0,719.1 104.6,719.1 107.2,719.1 109.8,719.1 112.4,719.1 115.0,719.2 117.6,719.2 120.3,719.2 122.9,719.2 125.5,719.2 128.1,719.2 130.7,719.2 133.3,719.2 135.9,719.2 138.5,719.2 141.1,719.1 143.7,719.1 146.3,719.1 148.9,719.0 151.5,719.0 154.1,718.9 156.7,718.7 159.3,718.6 161.9,718.4 164.5,718.2 167.1,718.0 169.7,717.7 172.3,717.4 174.9,717.1 177.5,716.8 180.1,716.4 182.7,715.9 185.3,715.6 187.9,715.3 190.5,715.0 193.1,714.9 195.7,715.2 198.3,715.9 200.9,717.3 203.5,719.2 206.2,721.4 208.8,723.8 211.4,726.6 214.0,729.8 216.6,731.9 219.2,733.7 221.8,735.2 224.4,736.6 227.0,737.7 229.6,738.6 232.2,739.2 234.8,739.8 237.4,740.2 240.0,740.5 242.6,740.8 245.2,741.1 247.8,741.3 250.4,741.4 253.0,741.5 255.6,741.5 258.2,741.5 260.8,741.5 263.4,741.5 266.0,741.6 268.6,741.6 271.2,741.6 273.8,741.6 276.4,741.6 279.0,741.6 281.6,741.6 284.2,741.6 286.8,741.7 289.4,741.7 292.0,741.7 294.7,741.7 297.3,741.7 299.9,741.7 302.5,741.7 305.1,741.7 307.7,741.7 310.3,741.7 312.9,741.7 315.5,741.7 318.1,741.7 320.7,741.7 323.3,741.7 325.9,741.7 328.5,741.7 331.1,741.7 333.7,741.7" fill="none" stroke="#0000ff" stroke-width="1.6" stroke-linejoin="round" stroke-linecap="round" />
<path d="M78.6,741.4 81.2,741.4 83.8,741.4 86.4,741.4 89.0,741.4 91.6,741.4 94.2,741.4 96.8,741.4 99.4,741.4 102.0,741.4 104.6,741.4 107.2,741.4 109.8,741.4 112.4,741.4 115.0,741.4 117.6,741.4 120.3,741.4 122.9,741.4 125.5,741.4 128.1,741.4 130.7,741.4 133.3,741.4 135.9,741.4 138.5,741.4 141.1,741.4 143.7,741.4 146.3,741.4 148.9,741.4 151.5,741.4 154.1,741.4 156.7,741.4 159.3,741.4 161.9,741.4 164.5,741.4 167.1,741.4 169.7,741.4 172.3,741.4 174.9,741.4 177.5,741.4 180.1,741.2 182.7,741.0 185.3,740.8 187.9,740.5 190.5,740.3 193.1,740.1 195.7,739.9 198.3,739.6 200.9,739.2 203.5,738.5 206.2,737.6 208.8,736.7 211.4,735.7 214.0,734.5 216.6,732.9 219.2,731.0 221.8,728.7 224.4,726.2 227.0,723.7 229.6,721.1 232.2,718.3 234.8,715.9 237.4,713.8 240.0,713.0 242.6,712.6 245.2,712.5 247.8,712.7 250.4,713.2 253.0,714.1 255.6,715.3 258.2,716.6 260.8,718.4 263.4,720.5 266.0,722.5 268.6,724.3 271.2,726.1 273.8,727.7 276.4,729.1 279.0,730.4 281.6,731.6 284.2,732.8 286.8,733.9 289.4,734.9 292.0,735.8 294.7,736.8 297.3,737.6 299.9,738.3 302.5,738.9 305.1,739.4 307.7,739.8 310.3,740.2 312.9,740.5 315.5,740.7 318.1,740.9 320.7,741.0 323.3,741.2 325.9,741.3 328.5,741.4 331.1,741.4 333.7,741.4" fill="none" stroke="#0000ff" stroke-width="1.75" stroke-linejoin="round" stroke-dasharray="1.8 1.0" />
<path d="M462.7,43.0 484.9,43.8 507.1,47.5 529.3,55.3 551.5,76.3 573.8,110.1 596.0,146.7 618.2,170.7 640.4,181.6 662.6,186.9 684.8,189.5" fill="none" stroke="#ff0000" stroke-width="1.7" stroke-linejoin="round" stroke-linecap="round" />
<path d="M462.7,35.5 484.9,41.1 507.1,49.3 529.3,63.2 551.5,86.5 573.8,119.4 596.0,152.0 618.2,173.0 640.4,183.5 662.6,187.6 684.8,189.9" fill="none" stroke="#00ff00" stroke-width="1.7" stroke-linejoin="round" stroke-linecap="round" />
<path d="M452.9,357.8 475.1,357.8 497.2,358.8 519.4,355.5 541.5,356.5 563.6,357.3 585.8,361.4 607.9,369.8 630.1,385.5 652.2,404.9 674.4,425.4" fill="none" stroke="#ff0000" stroke-width="1.7" stroke-linejoin="round" stroke-linecap="round" />
<path d="M452.9,300.7 475.1,293.8 497.2,297.6 519.4,298.6 541.5,301.5 563.6,311.5 585.8,326.0 607.9,354.2 630.1,385.5 652.2,409.5 674.4,427.5" fill="none" stroke="#00ff00" stroke-width="1.7" stroke-linejoin="round" stroke-linecap="round" />
<line x1="461.31" y1="43.01" x2="464.11" y2="43.01" stroke="#ff0000" stroke-width="1.3" />
<line x1="483.52" y1="43.75" x2="486.32" y2="43.75" stroke="#ff0000" stroke-width="1.3" />
<line x1="505.73" y1="47.45" x2="508.52" y2="47.45" stroke="#ff0000" stroke-width="1.3" />
<line x1="527.93" y1="55.30" x2="530.73" y2="55.30" stroke="#ff0000" stroke-width="1.3" />
<line x1="550.14" y1="76.33" x2="552.94" y2="76.33" stroke="#ff0000" stroke-width="1.3" />
<line x1="572.35" y1="110.09" x2="575.15" y2="110.09" stroke="#ff0000" stroke-width="1.3" />
<line x1="594.56" y1="146.74" x2="597.36" y2="146.74" stroke="#ff0000" stroke-width="1.3" />
<line x1="616.77" y1="170.73" x2="619.57" y2="170.73" stroke="#ff0000" stroke-width="1.3" />
<line x1="638.98" y1="181.61" x2="641.77" y2="181.61" stroke="#ff0000" stroke-width="1.3" />
<line x1="661.18" y1="186.87" x2="663.98" y2="186.87" stroke="#ff0000" stroke-width="1.3" />
<line x1="683.39" y1="189.46" x2="686.19" y2="189.46" stroke="#ff0000" stroke-width="1.3" />
<line x1="461.31" y1="35.46" x2="464.11" y2="35.46" stroke="#00ff00" stroke-width="1.3" />
<line x1="483.52" y1="41.08" x2="486.32" y2="41.08" stroke="#00ff00" stroke-width="1.3" />
<line x1="505.73" y1="49.30" x2="508.52" y2="49.30" stroke="#00ff00" stroke-width="1.3" />
<line x1="527.93" y1="63.22" x2="530.73" y2="63.22" stroke="#00ff00" stroke-width="1.3" />
<line x1="550.14" y1="86.47" x2="552.94" y2="86.47" stroke="#00ff00" stroke-width="1.3" />
<line x1="572.35" y1="119.42" x2="575.15" y2="119.42" stroke="#00ff00" stroke-width="1.3" />
<line x1="594.56" y1="152.00" x2="597.36" y2="152.00" stroke="#00ff00" stroke-width="1.3" />
<line x1="616.77" y1="173.02" x2="619.57" y2="173.02" stroke="#00ff00" stroke-width="1.3" />
<line x1="638.98" y1="183.54" x2="641.77" y2="183.54" stroke="#00ff00" stroke-width="1.3" />
<line x1="661.18" y1="187.61" x2="663.98" y2="187.61" stroke="#00ff00" stroke-width="1.3" />
<line x1="683.39" y1="189.91" x2="686.19" y2="189.91" stroke="#00ff00" stroke-width="1.3" />
<line x1="451.54" y1="357.80" x2="454.34" y2="357.80" stroke="#ff0000" stroke-width="1.3" />
<line x1="473.68" y1="357.80" x2="476.48" y2="357.80" stroke="#ff0000" stroke-width="1.3" />
<line x1="495.83" y1="358.83" x2="498.62" y2="358.83" stroke="#ff0000" stroke-width="1.3" />
<line x1="517.97" y1="355.50" x2="520.77" y2="355.50" stroke="#ff0000" stroke-width="1.3" />
<line x1="540.11" y1="356.52" x2="542.91" y2="356.52" stroke="#ff0000" stroke-width="1.3" />
<line x1="562.25" y1="357.29" x2="565.05" y2="357.29" stroke="#ff0000" stroke-width="1.3" />
<line x1="584.39" y1="361.39" x2="587.19" y2="361.39" stroke="#ff0000" stroke-width="1.3" />
<line x1="606.53" y1="369.84" x2="609.33" y2="369.84" stroke="#ff0000" stroke-width="1.3" />
<line x1="628.68" y1="385.46" x2="631.48" y2="385.46" stroke="#ff0000" stroke-width="1.3" />
<line x1="650.82" y1="404.92" x2="653.62" y2="404.92" stroke="#ff0000" stroke-width="1.3" />
<line x1="672.96" y1="425.40" x2="675.76" y2="425.40" stroke="#ff0000" stroke-width="1.3" />
<line x1="451.54" y1="300.70" x2="454.34" y2="300.70" stroke="#00ff00" stroke-width="1.3" />
<line x1="473.68" y1="293.78" x2="476.48" y2="293.78" stroke="#00ff00" stroke-width="1.3" />
<line x1="495.83" y1="297.62" x2="498.62" y2="297.62" stroke="#00ff00" stroke-width="1.3" />
<line x1="517.97" y1="298.65" x2="520.77" y2="298.65" stroke="#00ff00" stroke-width="1.3" />
<line x1="540.11" y1="301.47" x2="542.91" y2="301.47" stroke="#00ff00" stroke-width="1.3" />
<line x1="562.25" y1="311.45" x2="565.05" y2="311.45" stroke="#00ff00" stroke-width="1.3" />
<line x1="584.39" y1="326.05" x2="587.19" y2="326.05" stroke="#00ff00" stroke-width="1.3" />
<line x1="606.53" y1="354.22" x2="609.33" y2="354.22" stroke="#00ff00" stroke-width="1.3" />
<line x1="628.68" y1="385.46" x2="631.48" y2="385.46" stroke="#00ff00" stroke-width="1.3" />
<line x1="650.82" y1="409.53" x2="653.62" y2="409.53" stroke="#00ff00" stroke-width="1.3" />
<line x1="672.96" y1="427.45" x2="675.76" y2="427.45" stroke="#00ff00" stroke-width="1.3" />
<path d="M451.62,634.18 L473.83,633.63 L496.05,635.44 L518.27,642.12 L540.48,654.03 L562.70,672.98 L584.92,691.03 L607.13,703.67 L629.35,707.64 L651.57,705.83 L673.78,698.62" fill="none" stroke="#d0d0d0" stroke-width="1.8" stroke-linejoin="round" />
<path d="M451.62,634.18 L473.83,633.63 L496.05,635.44 L518.27,642.12 L540.48,654.03 L562.70,672.98 L584.92,691.03 L607.13,703.67 L629.35,707.64 L651.57,705.83 L673.78,698.62" fill="none" stroke="#505050" stroke-width="1.2" stroke-linejoin="round" stroke-dasharray="2 1" />
<circle cx="451.62" cy="634.18" r="1.2" fill="none" stroke="#666" stroke-width="0.5"/>
<circle cx="473.83" cy="633.63" r="1.2" fill="none" stroke="#666" stroke-width="0.5"/>
<circle cx="496.05" cy="635.44" r="1.2" fill="none" stroke="#666" stroke-width="0.5"/>
<circle cx="518.27" cy="642.12" r="1.2" fill="none" stroke="#666" stroke-width="0.5"/>
<circle cx="540.48" cy="654.03" r="1.2" fill="none" stroke="#666" stroke-width="0.5"/>
<circle cx="562.70" cy="672.98" r="1.2" fill="none" stroke="#666" stroke-width="0.5"/>
<circle cx="584.92" cy="691.03" r="1.2" fill="none" stroke="#666" stroke-width="0.5"/>
<circle cx="607.13" cy="703.67" r="1.2" fill="none" stroke="#666" stroke-width="0.5"/>
<circle cx="629.35" cy="707.64" r="1.2" fill="none" stroke="#666" stroke-width="0.5"/>
<circle cx="651.57" cy="705.83" r="1.2" fill="none" stroke="#666" stroke-width="0.5"/>
<circle cx="673.78" cy="698.62" r="1.2" fill="none" stroke="#666" stroke-width="0.5"/>
<path d="M451.62,663.96 L473.83,668.11 L496.05,669.55 L518.27,674.61 L540.48,681.83 L562.70,692.12 L584.92,702.41 L607.13,708.54 L629.35,708.90 L651.57,705.83 L673.78,698.62" fill="none" stroke="#d0d0d0" stroke-width="1.8" stroke-linejoin="round" />
<path d="M451.62,663.96 L473.83,668.11 L496.05,669.55 L518.27,674.61 L540.48,681.83 L562.70,692.12 L584.92,702.41 L607.13,708.54 L629.35,708.90 L651.57,705.83 L673.78,698.62" fill="none" stroke="#505050" stroke-width="1.2" stroke-linejoin="round" stroke-dasharray="2 1" />
<circle cx="451.62" cy="663.96" r="1.2" fill="none" stroke="#666" stroke-width="0.5"/>
<circle cx="473.83" cy="668.11" r="1.2" fill="none" stroke="#666" stroke-width="0.5"/>
<circle cx="496.05" cy="669.55" r="1.2" fill="none" stroke="#666" stroke-width="0.5"/>
<circle cx="518.27" cy="674.61" r="1.2" fill="none" stroke="#666" stroke-width="0.5"/>
<circle cx="540.48" cy="681.83" r="1.2" fill="none" stroke="#666" stroke-width="0.5"/>
<circle cx="562.70" cy="692.12" r="1.2" fill="none" stroke="#666" stroke-width="0.5"/>
<circle cx="584.92" cy="702.41" r="1.2" fill="none" stroke="#666" stroke-width="0.5"/>
<circle cx="607.13" cy="708.54" r="1.2" fill="none" stroke="#666" stroke-width="0.5"/>
<circle cx="629.35" cy="708.90" r="1.2" fill="none" stroke="#666" stroke-width="0.5"/>
<circle cx="651.57" cy="705.83" r="1.2" fill="none" stroke="#666" stroke-width="0.5"/>
<circle cx="673.78" cy="698.62" r="1.2" fill="none" stroke="#666" stroke-width="0.5"/>
<path d="M451.62,634.90 L473.83,634.54 L496.05,635.98 L518.27,638.69 L540.48,646.27 L562.70,671.90 L584.92,691.03 L607.13,702.77 L629.35,707.10 L651.57,706.38 L673.78,700.60" fill="none" stroke="#ff0000" stroke-width="1.7" stroke-linejoin="round" />
<path d="M451.62,552.13 L473.83,553.21 L496.05,558.27 L518.27,570.18 L540.48,607.18" fill="none" stroke="#00ff00" stroke-width="1.7" stroke-linejoin="round"/>
<clipPath id="cfl"><rect x="429.40" y="612.60" width="266.60" height="116.70"/></clipPath>
<path d="M540.48,535.08 L562.70,662.70 L584.92,700.96 L607.13,707.46 L629.35,707.46 L651.57,705.47 L673.78,698.98" fill="none" stroke="#00ff00" stroke-width="1.7" stroke-linejoin="round" clip-path="url(#cfl)"/>
<line x1="536.08" y1="609.58" x2="544.88" y2="607.78" stroke="#00ff00" stroke-width="1.5" />
<line x1="550.30" y1="613.10" x2="558.90" y2="612.00" stroke="#00ff00" stroke-width="1.5" />
<polygon points="424.70,610.30 433.80,608.30 433.80,611.10 424.70,613.10" fill="#fff"/>
<line x1="424.70" y1="610.30" x2="433.80" y2="608.30" stroke="#000" stroke-width="1.0" />
<line x1="425.00" y1="613.10" x2="434.00" y2="611.10" stroke="#000" stroke-width="1.0" />
<polygon points="691.30,610.30 700.40,608.30 700.40,611.10 691.30,613.10" fill="#fff"/>
<line x1="691.30" y1="610.30" x2="700.40" y2="608.30" stroke="#000" stroke-width="1.0" />
<line x1="691.60" y1="613.10" x2="700.60" y2="611.10" stroke="#000" stroke-width="1.0" />
<text transform="translate(12.60,19.40) scale(1.0,1)" font-size="14.3" text-anchor="start" font-weight="bold" >A</text>
<text transform="translate(12.90,283.20) scale(1.0,1)" font-size="14.3" text-anchor="start" font-weight="bold" >B</text>
<text transform="translate(12.50,544.00) scale(1.0,1)" font-size="14.3" text-anchor="start" font-weight="bold" >C</text>
<text transform="translate(370.60,19.40) scale(1.0,1)" font-size="14.3" text-anchor="start" font-weight="bold" >D</text>
<text transform="translate(370.90,283.20) scale(1.0,1)" font-size="14.3" text-anchor="start" font-weight="bold" >E</text>
<text transform="translate(371.00,543.80) scale(1.0,1)" font-size="14.3" text-anchor="start" font-weight="bold" >F</text>
<text transform="translate(206.00,251.40) scale(1.0,1)" font-size="13.1" text-anchor="middle" font-weight="normal" >x [%EL]</text>
<text transform="translate(206.85,513.20) scale(1.0,1)" font-size="13.1" text-anchor="middle" font-weight="normal" >x [%EL]</text>
<text transform="translate(206.15,776.00) scale(1.0,1)" font-size="13.1" text-anchor="middle" font-weight="normal" >x [%EL]</text>
<text transform="translate(573.75,248.80) scale(1.0,1)" font-size="13.1" text-anchor="middle">D [μm<tspan font-size="10.5" dy="-6.3">2</tspan><tspan dy="6.3">/s]</tspan></text>
<text transform="translate(563.65,506.60) scale(1.0,1)" font-size="13.1" text-anchor="middle">D [μm<tspan font-size="10.5" dy="-6.3">2</tspan><tspan dy="6.3">/s]</tspan></text>
<text transform="translate(562.70,768.50) scale(1.0,1)" font-size="13.1" text-anchor="middle">D [μm<tspan font-size="10.5" dy="-6.3">2</tspan><tspan dy="6.3">/s]</tspan></text>
<g transform="translate(32.00,121.20) rotate(-90) scale(0.988,1) translate(-65.49,0)"><path d="M4.32,-9.96 L0.39,-3.86 L4.32,2.23" fill="none" stroke="#000" stroke-width="1.11" stroke-linejoin="miter"/><text x="4.72" y="0" font-size="13.1">H</text><path d="M14.57,-9.96 L18.50,-3.86 L14.57,2.23" fill="none" stroke="#000" stroke-width="1.11" stroke-linejoin="miter"/><text x="18.89" y="0" font-size="13.1">, </text><path d="M30.49,-9.96 L26.56,-3.86 L30.49,2.23" fill="none" stroke="#000" stroke-width="1.11" stroke-linejoin="miter"/><text x="30.89" y="0" font-size="13.1">K</text><path d="M40.02,-9.96 L43.95,-3.86 L40.02,2.23" fill="none" stroke="#000" stroke-width="1.11" stroke-linejoin="miter"/><text x="44.34" y="0" font-size="13.1"> [copy number]</text></g>
<g transform="translate(34.70,383.50) rotate(-90) scale(0.955,1) translate(-60.01,0)"><path d="M4.32,-9.96 L0.39,-3.86 L4.32,2.23" fill="none" stroke="#000" stroke-width="1.11" stroke-linejoin="miter"/><text x="4.72" y="0" font-size="13.1">H</text><text x="14.18" y="-5.90" font-size="10.48">0</text><text x="14.18" y="3.93" font-size="10.48">5</text><path d="M20.40,-9.96 L24.33,-3.86 L20.40,2.23" fill="none" stroke="#000" stroke-width="1.11" stroke-linejoin="miter"/><text x="24.72" y="0" font-size="13.1">+</text><path d="M36.69,-9.96 L32.76,-3.86 L36.69,2.23" fill="none" stroke="#000" stroke-width="1.11" stroke-linejoin="miter"/><text x="37.09" y="0" font-size="13.1">H</text><text x="46.55" y="-5.90" font-size="10.48">1</text><text x="46.55" y="3.93" font-size="10.48">5</text><path d="M52.77,-9.96 L56.70,-3.86 L52.77,2.23" fill="none" stroke="#000" stroke-width="1.11" stroke-linejoin="miter"/><text x="57.09" y="0" font-size="13.1">, </text><path d="M68.69,-9.96 L64.76,-3.86 L68.69,2.23" fill="none" stroke="#000" stroke-width="1.11" stroke-linejoin="miter"/><text x="69.09" y="0" font-size="13.1">K</text><text x="77.82" y="-5.90" font-size="10.48">0</text><text x="77.82" y="3.93" font-size="10.48">5</text><path d="M84.05,-9.96 L87.98,-3.86 L84.05,2.23" fill="none" stroke="#000" stroke-width="1.11" stroke-linejoin="miter"/><text x="88.37" y="0" font-size="13.1">+</text><path d="M100.34,-9.96 L96.41,-3.86 L100.34,2.23" fill="none" stroke="#000" stroke-width="1.11" stroke-linejoin="miter"/><text x="100.74" y="0" font-size="13.1">K</text><text x="109.47" y="-5.90" font-size="10.48">1</text><text x="109.47" y="3.93" font-size="10.48">5</text><path d="M115.69,-9.96 L119.62,-3.86 L115.69,2.23" fill="none" stroke="#000" stroke-width="1.11" stroke-linejoin="miter"/></g>
<g transform="translate(31.70,645.30) rotate(-90) scale(1.0,1) translate(-62.33,0)"><text x="0.00" y="0" font-size="13.1">σ</text><text x="8.09" y="3.93" font-size="10.48">H</text><text x="15.65" y="0" font-size="13.1">, σ</text><text x="31.02" y="3.93" font-size="10.48">K</text><text x="38.01" y="0" font-size="13.1"> [copy number]</text></g>
<g transform="translate(388.80,117.00) rotate(-90) scale(1.0,1) translate(-41.31,0)"><text x="0.00" y="0" font-size="13.1">σ</text><text x="8.09" y="4.60" font-size="10.48">H</text><text x="15.65" y="0" font-size="13.1">(x</text><text x="26.57" y="4.60" font-size="10.48">t</text><text x="29.48" y="0" font-size="13.1">) [copies]</text></g>
<g transform="translate(388.90,377.50) rotate(-90) scale(0.98,1) translate(-63.45,0)"><text x="0.00" y="0" font-size="13.1">|</text><path d="M7.73,-9.96 L3.80,-3.86 L7.73,2.23" fill="none" stroke="#000" stroke-width="1.11" stroke-linejoin="miter"/><text x="8.12" y="0" font-size="13.1">H(x</text><text x="28.49" y="3.93" font-size="10.48">t</text><text x="31.40" y="0" font-size="13.1">)</text><path d="M36.16,-9.96 L40.09,-3.86 L36.16,2.23" fill="none" stroke="#000" stroke-width="1.11" stroke-linejoin="miter"/><text x="40.48" y="0" font-size="13.1">’| [copies/%EL]</text></g>
<g transform="translate(387.60,639.20) rotate(-90) scale(0.98,1) translate(-26.95,0)"><text x="0.00" y="0" font-size="13.1">Δx [%EL]</text></g>
<g transform="translate(140.20,150.00) scale(1.0,1) translate(-3.79,0)"><text x="0.00" y="0" font-size="10.5">D</text></g>
<line x1="83.70" y1="170.30" x2="94.40" y2="170.30" stroke="#000000" stroke-width="1.6" />
<g transform="translate(101.00,174.20) scale(1.0,1) translate(0.00,0)"><text x="0.00" y="0" font-size="11.6">0.000 μm</text><text x="48.60" y="-5.80" font-size="9.28">2</text><text x="53.76" y="0" font-size="11.6">/s (H)</text></g>
<line x1="83.70" y1="181.80" x2="94.40" y2="181.80" stroke="#ff0000" stroke-width="1.6" />
<g transform="translate(101.00,185.70) scale(1.0,1) translate(0.00,0)"><text x="0.00" y="0" font-size="11.6">0.010 μm</text><text x="48.60" y="-5.80" font-size="9.28">2</text><text x="53.76" y="0" font-size="11.6">/s (H)</text></g>
<line x1="83.70" y1="193.30" x2="94.40" y2="193.30" stroke="#00ff00" stroke-width="1.6" />
<g transform="translate(101.00,197.20) scale(1.0,1) translate(0.00,0)"><text x="0.00" y="0" font-size="11.6">0.101 μm</text><text x="48.60" y="-5.80" font-size="9.28">2</text><text x="53.76" y="0" font-size="11.6">/s (H)</text></g>
<line x1="83.70" y1="204.90" x2="94.40" y2="204.90" stroke="#0000ff" stroke-width="1.6" />
<g transform="translate(101.00,208.80) scale(1.0,1) translate(0.00,0)"><text x="0.00" y="0" font-size="11.6">1.012 μm</text><text x="48.60" y="-5.80" font-size="9.28">2</text><text x="53.76" y="0" font-size="11.6">/s (H)</text></g>
<g transform="translate(140.40,564.80) scale(1.0,1) translate(-3.79,0)"><text x="0.00" y="0" font-size="10.5">D</text></g>
<line x1="84.60" y1="584.90" x2="94.70" y2="584.90" stroke="#000000" stroke-width="1.6" />
<g transform="translate(101.30,588.80) scale(1.0,1) translate(0.00,0)"><text x="0.00" y="0" font-size="11.6">0.000 μm</text><text x="48.60" y="-5.80" font-size="9.28">2</text><text x="53.76" y="0" font-size="11.6">/s (H)</text></g>
<line x1="84.60" y1="596.40" x2="94.70" y2="596.40" stroke="#ff0000" stroke-width="1.6" />
<g transform="translate(101.30,600.30) scale(1.0,1) translate(0.00,0)"><text x="0.00" y="0" font-size="11.6">0.010 μm</text><text x="48.60" y="-5.80" font-size="9.28">2</text><text x="53.76" y="0" font-size="11.6">/s (H)</text></g>
<line x1="84.60" y1="607.90" x2="94.70" y2="607.90" stroke="#00ff00" stroke-width="1.6" />
<g transform="translate(101.30,611.80) scale(1.0,1) translate(0.00,0)"><text x="0.00" y="0" font-size="11.6">0.101 μm</text><text x="48.60" y="-5.80" font-size="9.28">2</text><text x="53.76" y="0" font-size="11.6">/s (H)</text></g>
<line x1="84.60" y1="619.30" x2="94.70" y2="619.30" stroke="#0000ff" stroke-width="1.6" />
<g transform="translate(101.30,623.20) scale(1.0,1) translate(0.00,0)"><text x="0.00" y="0" font-size="11.6">1.012 μm</text><text x="48.60" y="-5.80" font-size="9.28">2</text><text x="53.76" y="0" font-size="11.6">/s (H)</text></g>
<line x1="286.10" y1="312.80" x2="296.10" y2="312.80" stroke="#000" stroke-width="1.6" />
<line x1="286.10" y1="324.20" x2="296.10" y2="324.20" stroke="#000" stroke-width="1.6" stroke-dasharray="2.1 0.7"/>
<g transform="translate(303.20,316.40) scale(1.0,1) translate(0.00,0)"><text x="0.00" y="0" font-size="11.6">hb</text></g>
<g transform="translate(303.20,327.80) scale(1.0,1) translate(0.00,0)"><text x="0.00" y="0" font-size="11.6">kni</text></g>
<g transform="translate(647.70,37.70) scale(1.0,1) translate(-18.20,0)"><text x="0.00" y="0" font-size="12.6">NR</text></g>
<g transform="translate(647.70,51.60) scale(1.0,1) translate(-9.10,0)"><text x="0.00" y="0" font-size="12.6">R</text></g>
<line x1="655.80" y1="34.10" x2="691.00" y2="34.10" stroke="#ff0000" stroke-width="1.7" />
<line x1="655.80" y1="47.70" x2="691.00" y2="47.70" stroke="#00ff00" stroke-width="1.7" />
<g transform="translate(639.50,301.40) scale(1.0,1) translate(-18.20,0)"><text x="0.00" y="0" font-size="12.6">NR</text></g>
<g transform="translate(639.50,314.70) scale(1.0,1) translate(-9.10,0)"><text x="0.00" y="0" font-size="12.6">R</text></g>
<line x1="647.10" y1="297.80" x2="681.00" y2="297.80" stroke="#ff0000" stroke-width="1.7" />
<line x1="647.10" y1="310.80" x2="681.00" y2="310.80" stroke="#00ff00" stroke-width="1.7" />
<g transform="translate(638.70,562.50) scale(1.0,1) translate(-18.20,0)"><text x="0.00" y="0" font-size="12.6">NR</text></g>
<g transform="translate(638.70,575.60) scale(1.0,1) translate(-9.10,0)"><text x="0.00" y="0" font-size="12.6">R</text></g>
<line x1="646.30" y1="558.90" x2="680.70" y2="558.90" stroke="#ff0000" stroke-width="1.7" />
<line x1="646.30" y1="571.70" x2="680.70" y2="571.70" stroke="#00ff00" stroke-width="1.7" />
</svg>
</body></html>
